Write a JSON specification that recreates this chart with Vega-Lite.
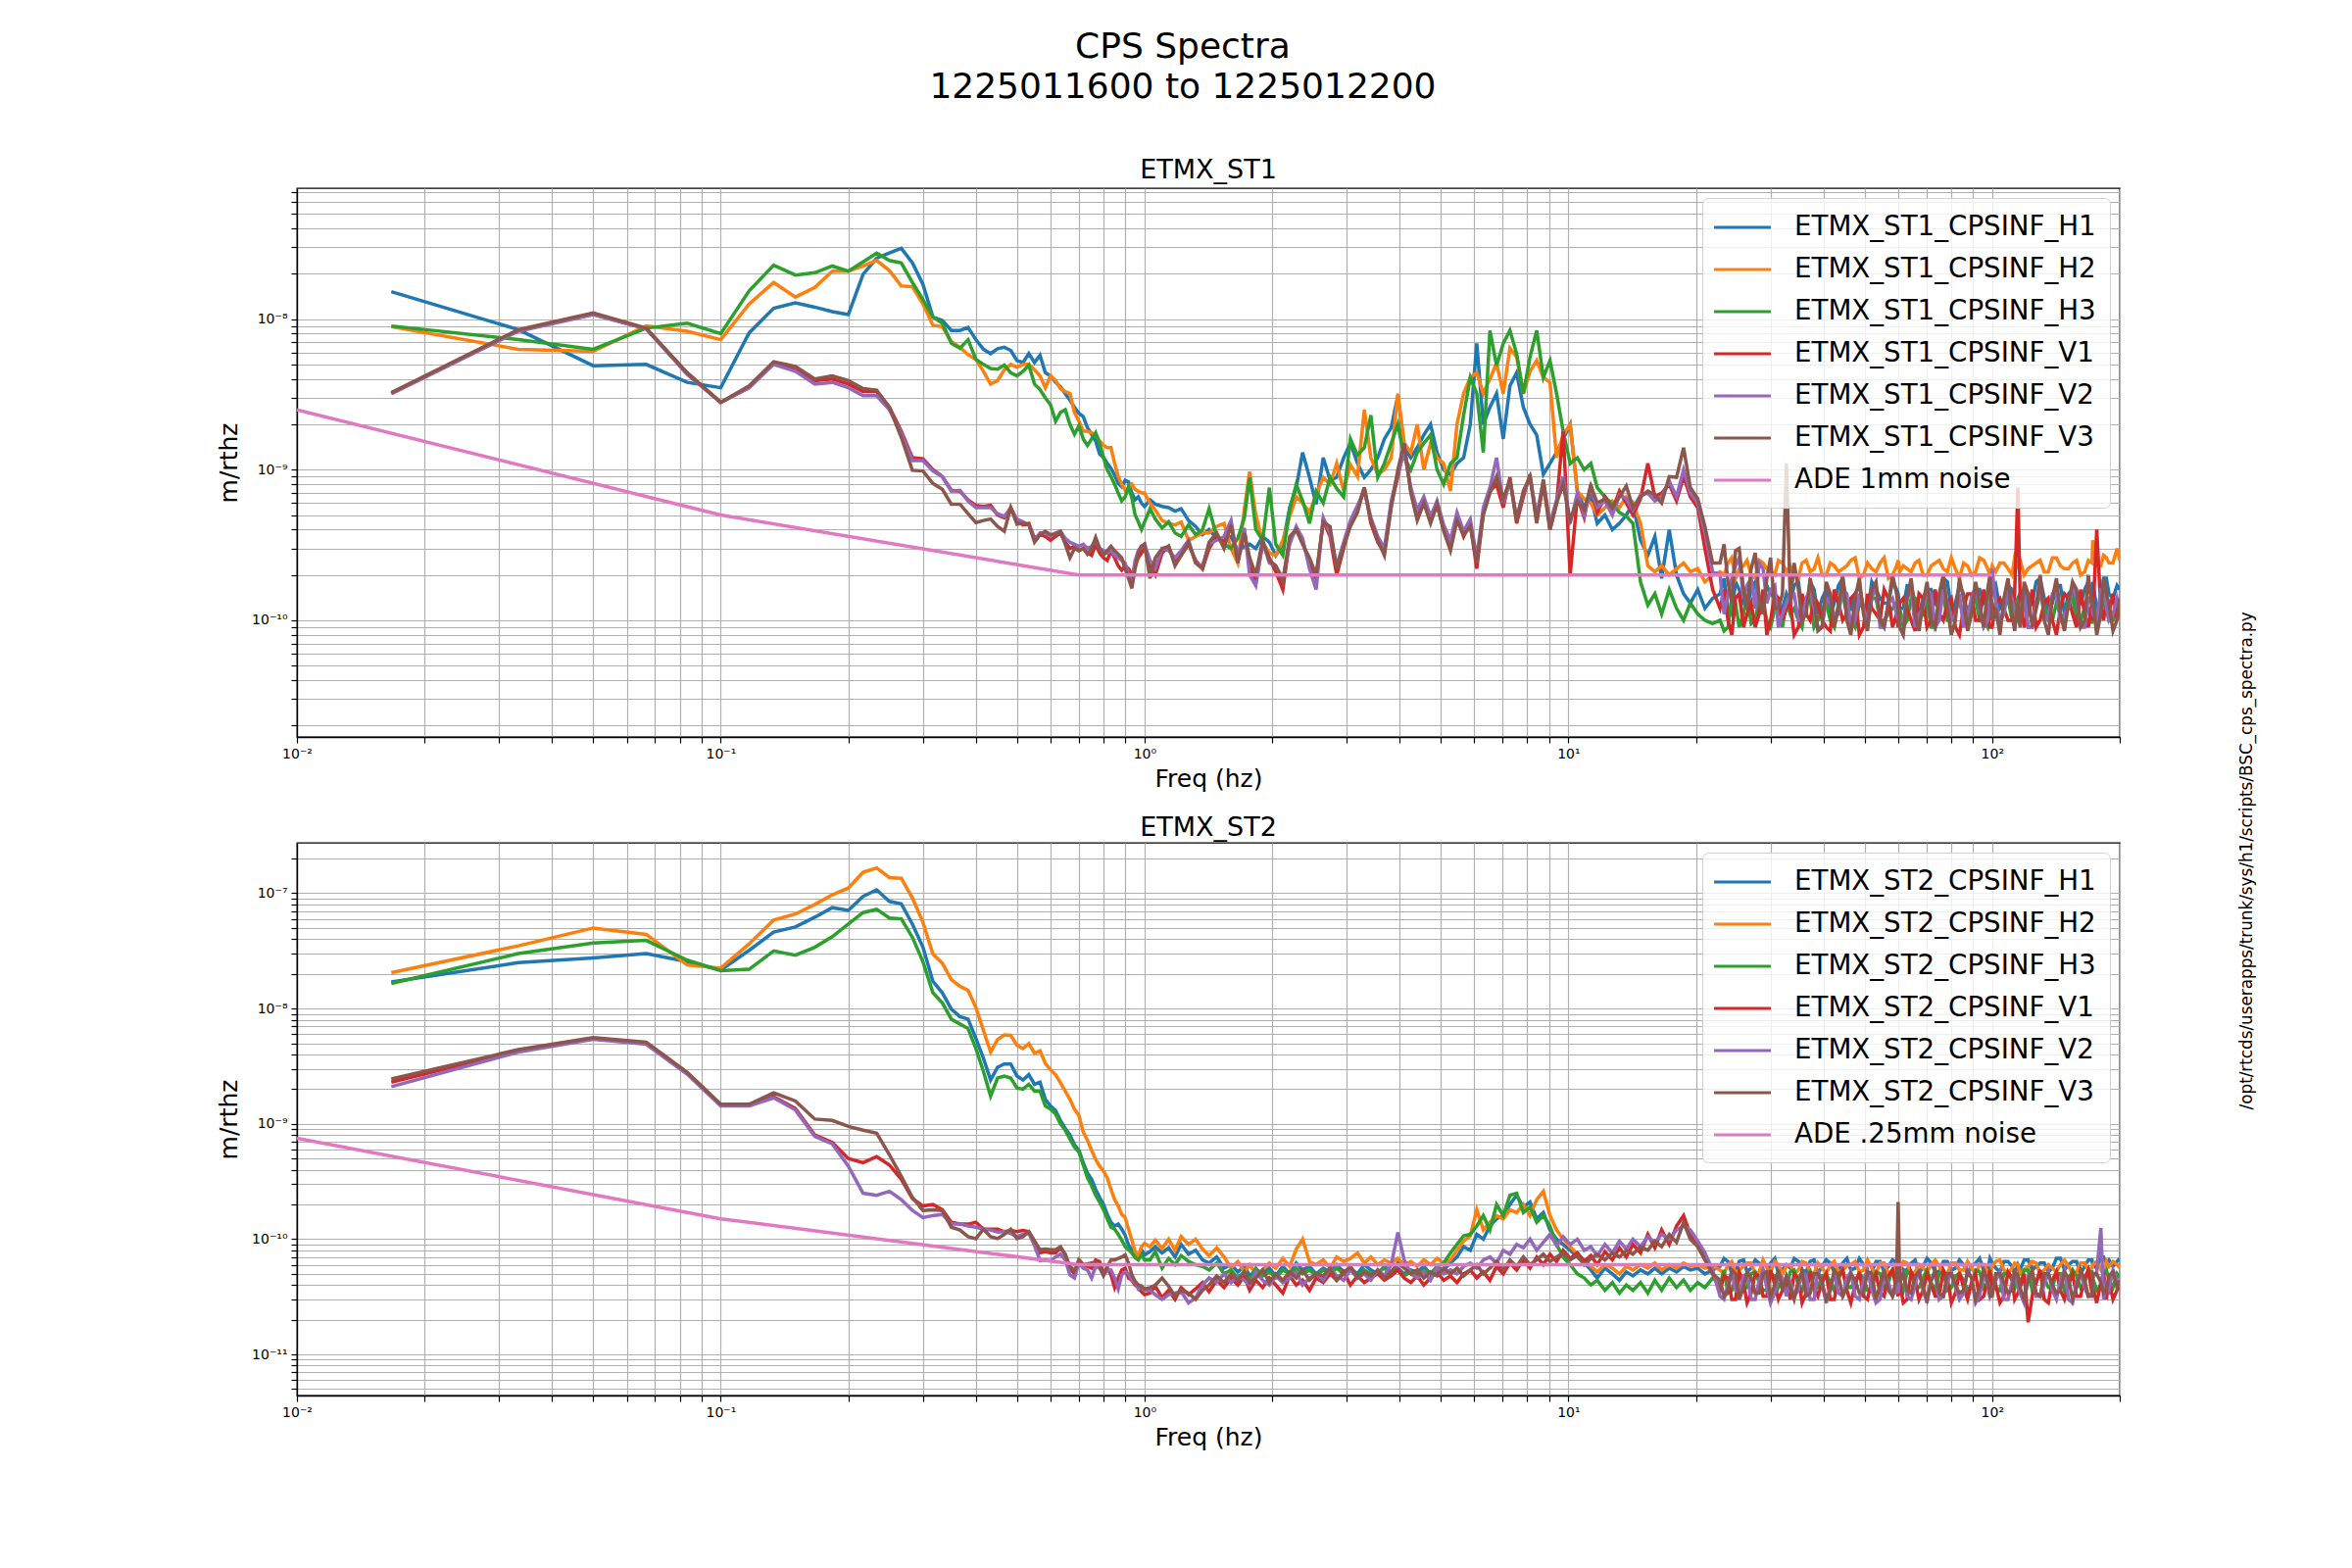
{
"$schema":"https://vega.github.io/schema/vega-lite/v6.json",
"background":"white",
"padding":{"left":220,"top":30,"right":10,"bottom":10},
"title":{"text":["CPS Spectra","1225011600 to 1225012200"],"fontSize":36,"fontWeight":"normal","font":"DejaVu Sans","lineHeight":41,"anchor":"middle","offset":51,"dx":-55,"color":"black"},
"config":{
"font":"DejaVu Sans",
"view":{"stroke":"black","strokeWidth":1.3},
"axis":{"gridColor":"#b0b0b0","gridWidth":1.2,"domainColor":"black","domainWidth":1.3,"tickColor":"black","tickWidth":1.2,"tickSize":6,"labelColor":"black","labelFontSize":14,"labelFont":"DejaVu Sans","labelPadding":4,"titleFontSize":25,"titleFont":"DejaVu Sans","titleFontWeight":"normal","titleColor":"black","labelOverlap":false,"labelFlush":false,"labelBound":false},
"title":{"fontSize":27,"fontWeight":"normal","font":"DejaVu Sans","color":"black","offset":1},
"legend":{"orient":"top-right","offset":10,"padding":14,"rowPadding":13,"labelFontSize":27.7,"labelFont":"DejaVu Sans","labelColor":"black","labelLimit":700,"labelOffset":37,"symbolOffset":11,"symbolType":"M-2.07,0H2.07","symbolSize":784,"symbolStrokeWidth":3.2,"fillColor":"rgba(255,255,255,0.8)","strokeColor":"#d0d0d0","cornerRadius":6}
},
"datasets":{
"ade1":[{"f":0.01,"s":"ADE","v":2.5e-9},{"f":0.1,"s":"ADE","v":5.0e-10},{"f":0.7,"s":"ADE","v":2.0e-10},{"f":100,"s":"ADE","v":2.0e-10}],
"ade2":[{"f":0.01,"s":"ADE","v":7.5e-10},{"f":0.1,"s":"ADE","v":1.5e-10},{"f":0.7,"s":"ADE","v":6.0e-11},{"f":100,"s":"ADE","v":6.0e-11}],
"note":[{"t":"/opt/rtcds/userapps/trunk/sys/h1/scripts/BSC_cps_spectra.py"}],
"st1":[
{"f":0.0167,"H1":1.52e-8,"H2":8.9e-9,"H3":9.0e-9,"V1":3.2e-9,"V2":3.2e-9,"V3":3.25e-9},
{"f":0.0333,"H1":8.5e-9,"H2":6.3e-9,"H3":7.3e-9,"V1":8.4e-9,"V2":8.3e-9,"V3":8.5e-9},
{"f":0.05,"H1":4.9e-9,"H2":6.1e-9,"H3":6.3e-9,"V1":1.08e-8,"V2":1.07e-8,"V3":1.1e-8},
{"f":0.0667,"H1":5.0e-9,"H2":9.0e-9,"H3":8.7e-9,"V1":8.6e-9,"V2":8.6e-9,"V3":8.7e-9},
{"f":0.0833,"H1":3.8e-9,"H2":8.3e-9,"H3":9.4e-9,"V1":4.4e-9,"V2":4.3e-9,"V3":4.4e-9},
{"f":0.1,"H1":3.5e-9,"H2":7.3e-9,"H3":8.0e-9,"V1":2.8e-9,"V2":2.8e-9,"V3":2.8e-9},
{"f":0.1167,"H1":8.1e-9,"H2":1.26e-8,"H3":1.54e-8,"V1":3.5e-9,"V2":3.5e-9,"V3":3.6e-9},
{"f":0.1333,"H1":1.18e-8,"H2":1.75e-8,"H3":2.28e-8,"V1":5.1e-9,"V2":5.0e-9,"V3":5.2e-9},
{"f":0.15,"H1":1.28e-8,"H2":1.4e-8,"H3":1.96e-8,"V1":4.6e-9,"V2":4.5e-9,"V3":4.85e-9},
{"f":0.1667,"H1":1.2e-8,"H2":1.62e-8,"H3":2.03e-8,"V1":3.9e-9,"V2":3.7e-9,"V3":4.0e-9},
{"f":0.1833,"H1":1.12e-8,"H2":2.08e-8,"H3":2.25e-8,"V1":4.0e-9,"V2":3.8e-9,"V3":4.2e-9},
{"f":0.2,"H1":1.07e-8,"H2":2.08e-8,"H3":2.08e-8,"V1":3.7e-9,"V2":3.5e-9,"V3":3.9e-9},
{"f":0.2167,"H1":1.98e-8,"H2":2.25e-8,"H3":2.4e-8,"V1":3.3e-9,"V2":3.1e-9,"V3":3.45e-9},
{"f":0.2333,"H1":2.54e-8,"H2":2.45e-8,"H3":2.74e-8,"V1":3.3e-9,"V2":3.1e-9,"V3":3.37e-9},
{"f":0.25,"H1":2.75e-8,"H2":2.1e-8,"H3":2.45e-8,"V1":2.6e-9,"V2":2.5e-9,"V3":2.6e-9},
{"f":0.2667,"H1":2.95e-8,"H2":1.66e-8,"H3":2.36e-8,"V1":1.8e-9,"V2":1.75e-9,"V3":1.64e-9},
{"f":0.2833,"H1":2.36e-8,"H2":1.64e-8,"H3":1.75e-8,"V1":1.2e-9,"V2":1.15e-9,"V3":9.9e-10},
{"f":0.3,"H1":1.7e-8,"H2":1.26e-8,"H3":1.35e-8,"V1":1.18e-9,"V2":1.15e-9,"V3":9.8e-10},
{"f":0.3167,"H1":1.03e-8,"H2":9.1e-9,"H3":1.03e-8,"V1":1.0e-9,"V2":9.8e-10,"V3":8.1e-10},
{"f":0.3333,"H1":9.8e-9,"H2":8.9e-9,"H3":9.4e-9,"V1":9.0e-10,"V2":9.0e-10,"V3":7.4e-10},
{"f":0.35,"H1":8.4e-9,"H2":7.1e-9,"H3":6.9e-9,"V1":7.3e-10,"V2":7.2e-10,"V3":5.9e-10},
{"f":0.3667,"H1":8.4e-9,"H2":6.5e-9,"H3":6.4e-9,"V1":7.2e-10,"V2":7.3e-10,"V3":5.9e-10},
{"f":0.3833,"H1":8.8e-9,"H2":5.8e-9,"H3":7.3e-9,"V1":6.3e-10,"V2":6.2e-10,"V3":5.1e-10},
{"f":0.4,"H1":7.3e-9,"H2":5.4e-9,"H3":5.4e-9,"V1":5.8e-10,"V2":5.6e-10,"V3":4.45e-10},
{"f":0.4167,"H1":6.3e-9,"H2":4.5e-9,"H3":5.0e-9,"V1":5.7e-10,"V2":5.6e-10,"V3":4.6e-10},
{"f":0.4333,"H1":5.9e-9,"H2":3.7e-9,"H3":4.7e-9,"V1":5.8e-10,"V2":5.6e-10,"V3":4.7e-10},
{"f":0.45,"H1":6.35e-9,"H2":3.9e-9,"H3":4.65e-9,"V1":5.0e-10,"V2":5.1e-10,"V3":4.2e-10},
{"f":0.4667,"H1":6.5e-9,"H2":4.6e-9,"H3":4.95e-9,"V1":4.8e-10,"V2":4.9e-10,"V3":3.9e-10},
{"f":0.4833,"H1":6.2e-9,"H2":5.0e-9,"H3":4.4e-9,"V1":5.6e-10,"V2":5.5e-10,"V3":5.6e-10},
{"f":0.5,"H1":5.3e-9,"H2":4.8e-9,"H3":4.2e-9,"V1":4.6e-10,"V2":4.7e-10,"V3":4.35e-10},
{"f":0.5167,"H1":5.15e-9,"H2":5.0e-9,"H3":4.5e-9,"V1":4.3e-10,"V2":4.5e-10,"V3":4.4e-10},
{"f":0.5333,"H1":5.9e-9,"H2":5.0e-9,"H3":4.95e-9,"V1":4.4e-10,"V2":4.3e-10,"V3":4.35e-10},
{"f":0.55,"H1":5.15e-9,"H2":4.6e-9,"H3":3.7e-9,"V1":3.5e-10,"V2":3.4e-10,"V3":3.3e-10},
{"f":0.5667,"H1":5.75e-9,"H2":4.2e-9,"H3":3.4e-9,"V1":3.7e-10,"V2":3.8e-10,"V3":3.7e-10},
{"f":0.5833,"H1":4.4e-9,"H2":3.5e-9,"H3":3.0e-9,"V1":3.6e-10,"V2":3.8e-10,"V3":3.9e-10},
{"f":0.6,"H1":4.2e-9,"H2":4.2e-9,"H3":2.7e-9,"V1":3.4e-10,"V2":3.6e-10,"V3":3.7e-10},
{"f":0.6167,"H1":3.8e-9,"H2":3.9e-9,"H3":2.1e-9,"V1":3.6e-10,"V2":3.8e-10,"V3":3.75e-10},
{"f":0.6333,"H1":3.55e-9,"H2":3.45e-9,"H3":2.4e-9,"V1":3.8e-10,"V2":3.9e-10,"V3":3.9e-10},
{"f":0.65,"H1":3.2e-9,"H2":3.3e-9,"H3":2.5e-9,"V1":3.3e-10,"V2":3.5e-10,"V3":3.2e-10},
{"f":0.6667,"H1":2.9e-9,"H2":3.2e-9,"H3":2.0e-9,"V1":3.0e-10,"V2":3.3e-10,"V3":2.6e-10},
{"f":0.6833,"H1":2.6e-9,"H2":2.4e-9,"H3":1.72e-9,"V1":3.1e-10,"V2":3.2e-10,"V3":3.0e-10},
{"f":0.7,"H1":2.37e-9,"H2":2.1e-9,"H3":1.95e-9,"V1":2.9e-10,"V2":3.1e-10,"V3":2.9e-10},
{"f":0.7167,"H1":2.25e-9,"H2":1.8e-9,"H3":1.6e-9,"V1":3.0e-10,"V2":3.2e-10,"V3":3.0e-10},
{"f":0.7333,"H1":1.9e-9,"H2":1.8e-9,"H3":1.45e-9,"V1":2.8e-10,"V2":3.0e-10,"V3":2.75e-10},
{"f":0.75,"H1":1.72e-9,"H2":1.76e-9,"H3":1.6e-9,"V1":2.7e-10,"V2":3.1e-10,"V3":3.0e-10},
{"f":0.7667,"H1":1.55e-9,"H2":1.7e-9,"H3":1.76e-9,"V1":3.2e-10,"V2":3.4e-10,"V3":3.55e-10},
{"f":0.7833,"H1":1.27e-9,"H2":1.55e-9,"H3":1.5e-9,"V1":2.8e-10,"V2":3.0e-10,"V3":3.0e-10},
{"f":0.8,"H1":1.21e-9,"H2":1.45e-9,"H3":1.2e-9,"V1":2.6e-10,"V2":2.9e-10,"V3":2.7e-10},
{"f":0.8167,"H1":1.1e-9,"H2":1.4e-9,"H3":1.0e-9,"V1":2.5e-10,"V2":2.8e-10,"V3":2.9e-10},
{"f":0.8333,"H1":1.02e-9,"H2":1.4e-9,"H3":9.0e-10,"V1":2.9e-10,"V2":2.9e-10,"V3":3.1e-10},
{"f":0.85,"H1":9.2e-10,"H2":1.1e-9,"H3":8.0e-10,"V1":2.6e-10,"V2":2.7e-10,"V3":2.9e-10},
{"f":0.8667,"H1":8.1e-10,"H2":9.0e-10,"H3":7.0e-10,"V1":2.3e-10,"V2":2.6e-10,"V3":2.75e-10},
{"f":0.8833,"H1":7.7e-10,"H2":8.0e-10,"H3":6.2e-10,"V1":2.15e-10,"V2":2.5e-10,"V3":2.6e-10},
{"f":0.9,"H1":8.5e-10,"H2":7.3e-10,"H3":6.6e-10,"V1":2.3e-10,"V2":2.4e-10,"V3":2.2e-10},
{"f":0.9167,"H1":8.3e-10,"H2":7.6e-10,"H3":7.7e-10,"V1":2.2e-10,"V2":2.0e-10,"V3":1.9e-10},
{"f":0.9333,"H1":7.0e-10,"H2":8.0e-10,"H3":6.5e-10,"V1":2.0e-10,"V2":1.8e-10,"V3":1.63e-10},
{"f":0.95,"H1":6.3e-10,"H2":7.4e-10,"H3":5.0e-10,"V1":2.3e-10,"V2":2.5e-10,"V3":2.2e-10},
{"f":0.9667,"H1":6.6e-10,"H2":7.2e-10,"H3":4.5e-10,"V1":2.6e-10,"V2":2.9e-10,"V3":2.8e-10},
{"f":0.9833,"H1":6.0e-10,"H2":7.0e-10,"H3":4.0e-10,"V1":2.8e-10,"V2":3.1e-10,"V3":3.1e-10},
{"f":1.0,"H1":5.7e-10,"H2":7.0e-10,"H3":4.5e-10,"V1":3.0e-10,"V2":3.2e-10,"V3":3.2e-10},
{"f":1.03,"H1":6.3e-10,"H2":6.0e-10,"H3":5.5e-10,"V1":2.3e-10,"V2":2.5e-10,"V3":1.9e-10},
{"f":1.06,"H1":5.9e-10,"H2":5.4e-10,"H3":4.7e-10,"V1":2.0e-10,"V2":2.2e-10,"V3":2.6e-10},
{"f":1.1,"H1":5.7e-10,"H2":4.6e-10,"H3":4.1e-10,"V1":2.8e-10,"V2":3.0e-10,"V3":3.0e-10},
{"f":1.14,"H1":5.6e-10,"H2":4.4e-10,"H3":4.5e-10,"V1":3.1e-10,"V2":2.9e-10,"V3":3.1e-10},
{"f":1.18,"H1":5.3e-10,"H2":4.3e-10,"H3":3.8e-10,"V1":2.4e-10,"V2":2.6e-10,"V3":2.3e-10},
{"f":1.22,"H1":5.5e-10,"H2":4.5e-10,"H3":3.6e-10,"V1":2.7e-10,"V2":2.9e-10,"V3":2.7e-10},
{"f":1.27,"H1":4.6e-10,"H2":3.4e-10,"H3":4.3e-10,"V1":3.2e-10,"V2":3.4e-10,"V3":3.3e-10},
{"f":1.32,"H1":4.2e-10,"H2":3.6e-10,"H3":3.7e-10,"V1":2.5e-10,"V2":2.4e-10,"V3":2.4e-10},
{"f":1.37,"H1":3.7e-10,"H2":3.8e-10,"H3":4.0e-10,"V1":2.2e-10,"V2":2.3e-10,"V3":2.2e-10},
{"f":1.42,"H1":4.0e-10,"H2":3.8e-10,"H3":5.5e-10,"V1":3.0e-10,"V2":3.2e-10,"V3":3.3e-10},
{"f":1.48,"H1":3.5e-10,"H2":4.2e-10,"H3":3.6e-10,"V1":3.6e-10,"V2":3.4e-10,"V3":3.8e-10},
{"f":1.54,"H1":3.3e-10,"H2":4.4e-10,"H3":3.2e-10,"V1":3.3e-10,"V2":3.6e-10,"V3":3.0e-10},
{"f":1.6,"H1":3.6e-10,"H2":3.0e-10,"H3":3.0e-10,"V1":4.2e-10,"V2":4.6e-10,"V3":4.3e-10},
{"f":1.66,"H1":2.9e-10,"H2":2.4e-10,"H3":3.5e-10,"V1":2.6e-10,"V2":2.5e-10,"V3":2.4e-10},
{"f":1.72,"H1":3.1e-10,"H2":5.5e-10,"H3":4.8e-10,"V1":3.9e-10,"V2":4.1e-10,"V3":3.8e-10},
{"f":1.77,"H1":3.2e-10,"H2":9.7e-10,"H3":8.9e-10,"V1":2.3e-10,"V2":2.0e-10,"V3":2.6e-10},
{"f":1.83,"H1":3.0e-10,"H2":5.0e-10,"H3":4.0e-10,"V1":1.8e-10,"V2":1.7e-10,"V3":2.0e-10},
{"f":1.9,"H1":3.6e-10,"H2":3.3e-10,"H3":3.4e-10,"V1":3.2e-10,"V2":3.3e-10,"V3":3.4e-10},
{"f":1.97,"H1":3.3e-10,"H2":2.8e-10,"H3":7.6e-10,"V1":2.6e-10,"V2":2.4e-10,"V3":2.5e-10},
{"f":2.04,"H1":2.7e-10,"H2":2.7e-10,"H3":3.2e-10,"V1":2.1e-10,"V2":2.3e-10,"V3":2.3e-10},
{"f":2.12,"H1":3.2e-10,"H2":3.4e-10,"H3":2.7e-10,"V1":1.6e-10,"V2":1.9e-10,"V3":1.8e-10},
{"f":2.2,"H1":5.6e-10,"H2":4.9e-10,"H3":5.4e-10,"V1":3.4e-10,"V2":3.2e-10,"V3":3.6e-10},
{"f":2.28,"H1":7.6e-10,"H2":6.6e-10,"H3":8.0e-10,"V1":4.0e-10,"V2":4.2e-10,"V3":4.0e-10},
{"f":2.36,"H1":1.3e-9,"H2":6.0e-10,"H3":6.2e-10,"V1":3.3e-10,"V2":3.5e-10,"V3":3.2e-10},
{"f":2.45,"H1":8.9e-10,"H2":5.2e-10,"H3":4.4e-10,"V1":2.4e-10,"V2":2.2e-10,"V3":2.6e-10},
{"f":2.54,"H1":5.9e-10,"H2":6.8e-10,"H3":7.2e-10,"V1":1.9e-10,"V2":1.6e-10,"V3":2.0e-10},
{"f":2.64,"H1":1.2e-9,"H2":8.9e-10,"H3":6.0e-10,"V1":4.6e-10,"V2":4.8e-10,"V3":4.5e-10},
{"f":2.74,"H1":8.5e-10,"H2":8.0e-10,"H3":8.9e-10,"V1":3.6e-10,"V2":3.8e-10,"V3":4.2e-10},
{"f":2.84,"H1":8.9e-10,"H2":1.1e-9,"H3":7.5e-10,"V1":2.0e-10,"V2":2.3e-10,"V3":2.2e-10},
{"f":2.95,"H1":1.2e-9,"H2":7.2e-10,"H3":6.6e-10,"V1":3.0e-10,"V2":3.3e-10,"V3":3.1e-10},
{"f":3.06,"H1":1.5e-9,"H2":1.08e-9,"H3":1.6e-9,"V1":4.4e-10,"V2":4.6e-10,"V3":4.2e-10},
{"f":3.18,"H1":1.1e-9,"H2":9.0e-10,"H3":1.25e-9,"V1":5.5e-10,"V2":5.8e-10,"V3":5.2e-10},
{"f":3.3,"H1":8.9e-10,"H2":2.5e-9,"H3":1.4e-9,"V1":7.6e-10,"V2":7.2e-10,"V3":7.6e-10},
{"f":3.42,"H1":1.0e-9,"H2":1.2e-9,"H3":2.3e-9,"V1":4.4e-10,"V2":4.8e-10,"V3":4.6e-10},
{"f":3.55,"H1":1.2e-9,"H2":9.3e-10,"H3":8.9e-10,"V1":3.3e-10,"V2":3.6e-10,"V3":3.4e-10},
{"f":3.68,"H1":1.6e-9,"H2":1.0e-9,"H3":1.1e-9,"V1":2.8e-10,"V2":3.0e-10,"V3":2.7e-10},
{"f":3.82,"H1":1.9e-9,"H2":1.2e-9,"H3":1.5e-9,"V1":5.9e-10,"V2":6.2e-10,"V3":5.6e-10},
{"f":3.96,"H1":3.1e-9,"H2":3.2e-9,"H3":2.0e-9,"V1":9.0e-10,"V2":9.5e-10,"V3":1.0e-9},
{"f":4.1,"H1":1.4e-9,"H2":1.5e-9,"H3":1.2e-9,"V1":1.4e-9,"V2":1.3e-9,"V3":1.5e-9},
{"f":4.25,"H1":1.2e-9,"H2":1.3e-9,"H3":1.0e-9,"V1":7.2e-10,"V2":7.6e-10,"V3":7.0e-10},
{"f":4.4,"H1":1.4e-9,"H2":2.0e-9,"H3":1.3e-9,"V1":5.0e-10,"V2":5.4e-10,"V3":4.6e-10},
{"f":4.56,"H1":1.7e-9,"H2":1.0e-9,"H3":1.5e-9,"V1":6.2e-10,"V2":6.6e-10,"V3":6.0e-10},
{"f":4.73,"H1":2.0e-9,"H2":1.5e-9,"H3":1.7e-9,"V1":4.6e-10,"V2":4.9e-10,"V3":4.4e-10},
{"f":4.9,"H1":1.3e-9,"H2":1.2e-9,"H3":1.0e-9,"V1":5.8e-10,"V2":6.2e-10,"V3":5.9e-10},
{"f":5.08,"H1":1.0e-9,"H2":1.1e-9,"H3":8.0e-10,"V1":4.0e-10,"V2":4.3e-10,"V3":3.9e-10},
{"f":5.27,"H1":9.3e-10,"H2":7.2e-10,"H3":1.1e-9,"V1":3.2e-10,"V2":3.4e-10,"V3":2.9e-10},
{"f":5.46,"H1":1.1e-9,"H2":2.0e-9,"H3":1.2e-9,"V1":4.8e-10,"V2":5.2e-10,"V3":4.6e-10},
{"f":5.66,"H1":1.2e-9,"H2":3.2e-9,"H3":2.3e-9,"V1":3.6e-10,"V2":3.9e-10,"V3":3.7e-10},
{"f":5.87,"H1":2.0e-9,"H2":4.1e-9,"H3":4.1e-9,"V1":4.4e-10,"V2":4.7e-10,"V3":4.2e-10},
{"f":6.08,"H1":6.9e-9,"H2":4.4e-9,"H3":3.2e-9,"V1":2.2e-10,"V2":2.6e-10,"V3":2.4e-10},
{"f":6.3,"H1":2.0e-9,"H2":3.2e-9,"H3":1.3e-9,"V1":5.2e-10,"V2":5.6e-10,"V3":5.0e-10},
{"f":6.53,"H1":2.6e-9,"H2":4.0e-9,"H3":8.4e-9,"V1":7.2e-10,"V2":7.6e-10,"V3":7.0e-10},
{"f":6.77,"H1":3.2e-9,"H2":5.1e-9,"H3":4.9e-9,"V1":8.0e-10,"V2":1.2e-9,"V3":9.0e-10},
{"f":7.02,"H1":1.6e-9,"H2":3.2e-9,"H3":6.9e-9,"V1":5.6e-10,"V2":6.0e-10,"V3":6.4e-10},
{"f":7.28,"H1":3.6e-9,"H2":6.4e-9,"H3":8.4e-9,"V1":8.9e-10,"V2":8.4e-10,"V3":8.6e-10},
{"f":7.55,"H1":4.4e-9,"H2":5.6e-9,"H3":5.9e-9,"V1":4.4e-10,"V2":4.8e-10,"V3":4.6e-10},
{"f":7.83,"H1":2.6e-9,"H2":3.2e-9,"H3":3.2e-9,"V1":6.6e-10,"V2":7.0e-10,"V3":7.2e-10},
{"f":8.12,"H1":2.0e-9,"H2":4.5e-9,"H3":5.6e-9,"V1":9.3e-10,"V2":8.8e-10,"V3":9.0e-10},
{"f":8.42,"H1":1.7e-9,"H2":5.3e-9,"H3":8.4e-9,"V1":4.6e-10,"V2":5.0e-10,"V3":4.4e-10},
{"f":8.73,"H1":9.3e-10,"H2":4.1e-9,"H3":4.1e-9,"V1":8.0e-10,"V2":8.4e-10,"V3":8.6e-10},
{"f":9.05,"H1":1.1e-9,"H2":3.8e-9,"H3":5.3e-9,"V1":4.0e-10,"V2":4.4e-10,"V3":4.0e-10},
{"f":9.38,"H1":1.3e-9,"H2":1.2e-9,"H3":3.2e-9,"V1":6.0e-10,"V2":6.3e-10,"V3":6.0e-10},
{"f":9.72,"H1":1.6e-9,"H2":1.7e-9,"H3":1.8e-9,"V1":1.8e-9,"V2":9.0e-10,"V3":8.0e-10},
{"f":10.1,"H1":2.0e-9,"H2":2.0e-9,"H3":1.1e-9,"V1":2.0e-10,"V2":4.4e-10,"V3":4.6e-10},
{"f":10.5,"H1":7.2e-10,"H2":7.2e-10,"H3":1.2e-9,"V1":6.6e-10,"V2":7.0e-10,"V3":6.2e-10},
{"f":10.9,"H1":5.6e-10,"H2":6.4e-10,"H3":1.0e-9,"V1":4.8e-10,"V2":5.0e-10,"V3":5.4e-10},
{"f":11.3,"H1":6.6e-10,"H2":6.0e-10,"H3":1.1e-9,"V1":8.0e-10,"V2":7.6e-10,"V3":7.8e-10},
{"f":11.7,"H1":4.4e-10,"H2":5.0e-10,"H3":7.6e-10,"V1":5.2e-10,"V2":5.6e-10,"V3":6.0e-10},
{"f":12.2,"H1":5.0e-10,"H2":5.6e-10,"H3":6.6e-10,"V1":6.6e-10,"V2":6.2e-10,"V3":6.4e-10},
{"f":12.7,"H1":4.0e-10,"H2":6.2e-10,"H3":5.9e-10,"V1":5.4e-10,"V2":5.0e-10,"V3":5.6e-10},
{"f":13.2,"H1":4.4e-10,"H2":5.6e-10,"H3":5.2e-10,"V1":7.2e-10,"V2":6.8e-10,"V3":6.6e-10},
{"f":13.7,"H1":5.0e-10,"H2":6.6e-10,"H3":4.9e-10,"V1":6.0e-10,"V2":6.4e-10,"V3":7.8e-10},
{"f":14.2,"H1":5.9e-10,"H2":6.0e-10,"H3":4.4e-10,"V1":5.0e-10,"V2":5.4e-10,"V3":5.6e-10},
{"f":14.8,"H1":3.4e-10,"H2":4.4e-10,"H3":1.8e-10,"V1":6.4e-10,"V2":6.8e-10,"V3":6.6e-10},
{"f":15.4,"H1":2.7e-10,"H2":2.3e-10,"H3":1.26e-10,"V1":1.1e-9,"V2":7.0e-10,"V3":7.2e-10},
{"f":16.0,"H1":3.6e-10,"H2":2.1e-10,"H3":1.5e-10,"V1":6.6e-10,"V2":6.2e-10,"V3":6.8e-10},
{"f":16.6,"H1":1.9e-10,"H2":2.3e-10,"H3":1.1e-10,"V1":7.0e-10,"V2":6.6e-10,"V3":6.0e-10},
{"f":17.3,"H1":4.0e-10,"H2":2.0e-10,"H3":1.6e-10,"V1":8.0e-10,"V2":8.4e-10,"V3":9.0e-10},
{"f":18.0,"H1":2.0e-10,"H2":2.2e-10,"H3":1.2e-10,"V1":6.2e-10,"V2":6.6e-10,"V3":8.9e-10},
{"f":18.7,"H1":1.5e-10,"H2":2.4e-10,"H3":1.0e-10,"V1":9.0e-10,"V2":1.0e-9,"V3":1.4e-9},
{"f":19.4,"H1":1.3e-10,"H2":2.1e-10,"H3":1.3e-10,"V1":6.6e-10,"V2":7.0e-10,"V3":7.6e-10},
{"f":20.2,"H1":1.6e-10,"H2":2.2e-10,"H3":1.1e-10,"V1":5.6e-10,"V2":6.0e-10,"V3":6.4e-10},
{"f":21.0,"H1":1.2e-10,"H2":1.8e-10,"H3":1.0e-10,"V1":3.0e-10,"V2":3.8e-10,"V3":4.2e-10},
{"f":21.9,"H1":1.4e-10,"H2":2.0e-10,"H3":9.5e-11,"V1":1.6e-10,"V2":2.1e-10,"V3":2.4e-10},
{"f":22.8,"H1":1.5e-10,"H2":2.1e-10,"H3":1.0e-10,"V1":1.2e-10,"V2":2.0e-10,"V3":2.4e-10},
{"f":23.8,"H1":1.2e-10,"H2":2.4e-10,"H3":9.0e-11,"V1":1.0e-10,"V2":1.5e-10,"V3":1.8e-10},
{"f":24.8,"H1":1.8e-10,"H2":1.9e-10,"H3":1.3e-10,"V1":1.4e-10,"V2":2.3e-10,"V3":2.9e-10},
{"f":25.9,"H1":1.3e-10,"H2":2.3e-10,"H3":1.1e-10,"V1":9.0e-11,"V2":1.4e-10,"V3":1.6e-10},
{"f":27.0,"H1":1.6e-10,"H2":2.0e-10,"H3":9.5e-11,"V1":1.3e-10,"V2":1.9e-10,"V3":2.2e-10},
{"f":28.2,"H1":1.1e-10,"H2":2.5e-10,"H3":1.4e-10,"V1":1.1e-10,"V2":2.4e-10,"V3":1.4e-10},
{"f":29.4,"H1":1.7e-10,"H2":2.2e-10,"H3":1.0e-10,"V1":8.0e-11,"V2":1.3e-10,"V3":1.9e-10},
{"f":30.7,"H1":1.4e-10,"H2":2.0e-10,"H3":1.2e-10,"V1":1.5e-10,"V2":1.7e-10,"V3":1.2e-10},
{"f":32.0,"H1":1.2e-10,"H2":2.4e-10,"H3":9.0e-11,"V1":1.0e-10,"V2":1.1e-10,"V3":1.5e-10},
{"f":32.7,"H1":1.5e-10,"H2":2.1e-10,"H3":1.3e-10,"V1":1.2e-10,"V2":1.3e-10,"V3":1.1e-9},
{"f":33.4,"H1":1.3e-10,"H2":2.3e-10,"H3":1.1e-10,"V1":1.3e-10,"V2":1.5e-10,"V3":1.3e-10},
{"f":34.9,"H1":1.8e-10,"H2":1.9e-10,"H3":1.0e-10,"V1":9.0e-11,"V2":1.0e-10,"V3":1.6e-10},
{"f":36.4,"H1":1.2e-10,"H2":2.5e-10,"H3":1.4e-10,"V1":1.1e-10,"V2":1.4e-10,"V3":1.1e-10},
{"f":38.0,"H1":1.6e-10,"H2":2.2e-10,"H3":9.0e-11,"V1":1.4e-10,"V2":1.2e-10,"V3":1.4e-10},
{"f":39.7,"H1":1.4e-10,"H2":2.0e-10,"H3":1.2e-10,"V1":1.0e-10,"V2":9.0e-11,"V3":9.0e-11},
{"f":41.5,"H1":1.1e-10,"H2":2.4e-10,"H3":1.0e-10,"V1":8.5e-11,"V2":1.3e-10,"V3":1.5e-10},
{"f":43.4,"H1":1.7e-10,"H2":2.1e-10,"H3":1.3e-10,"V1":1.3e-10,"V2":1.1e-10,"V3":1.2e-10},
{"f":45.4,"H1":1.3e-10,"H2":2.3e-10,"H3":1.1e-10,"V1":1.1e-10,"V2":1.5e-10,"V3":1.0e-10},
{"f":47.5,"H1":1.5e-10,"H2":2.6e-10,"H3":9.0e-11,"V1":1.5e-10,"V2":1.0e-10,"V3":1.4e-10},
{"f":49.7,"H1":1.2e-10,"H2":2.0e-10,"H3":1.2e-10,"V1":9.0e-11,"V2":1.2e-10,"V3":1.1e-10},
{"f":52.0,"H1":1.8e-10,"H2":2.2e-10,"H3":1.4e-10,"V1":1.2e-10,"V2":1.4e-10,"V3":1.6e-10},
{"f":54.4,"H1":1.4e-10,"H2":2.4e-10,"H3":1.0e-10,"V1":1.0e-10,"V2":9.0e-11,"V3":1.0e-10},
{"f":56.9,"H1":1.3e-10,"H2":1.9e-10,"H3":1.1e-10,"V1":1.4e-10,"V2":1.3e-10,"V3":1.3e-10},
{"f":59.5,"H1":1.6e-10,"H2":2.3e-10,"H3":1.3e-10,"V1":1.1e-10,"V2":1.1e-10,"V3":1.5e-10},
{"f":60.0,"H1":1.5e-10,"H2":2.5e-10,"H3":9.5e-11,"V1":9.0e-11,"V2":1.2e-10,"V3":1.2e-10},
{"f":60.5,"H1":1.2e-10,"H2":2.1e-10,"H3":1.2e-10,"V1":1.3e-10,"V2":1.0e-10,"V3":9.0e-11},
{"f":63.0,"H1":1.7e-10,"H2":2.2e-10,"H3":1.0e-10,"V1":1.2e-10,"V2":1.4e-10,"V3":1.4e-10},
{"f":65.8,"H1":1.3e-10,"H2":2.4e-10,"H3":1.4e-10,"V1":8.5e-11,"V2":9.0e-11,"V3":1.1e-10},
{"f":68.7,"H1":1.4e-10,"H2":2.0e-10,"H3":1.1e-10,"V1":1.4e-10,"V2":1.2e-10,"V3":1.3e-10},
{"f":71.8,"H1":1.6e-10,"H2":2.3e-10,"H3":9.0e-11,"V1":1.0e-10,"V2":1.5e-10,"V3":1.0e-10},
{"f":75.0,"H1":1.2e-10,"H2":2.5e-10,"H3":1.3e-10,"V1":1.1e-10,"V2":1.0e-10,"V3":1.5e-10},
{"f":78.4,"H1":1.8e-10,"H2":2.1e-10,"H3":1.0e-10,"V1":1.3e-10,"V2":1.3e-10,"V3":1.2e-10},
{"f":81.9,"H1":1.3e-10,"H2":2.2e-10,"H3":1.2e-10,"V1":9.0e-11,"V2":1.1e-10,"V3":1.0e-10},
{"f":85.6,"H1":1.5e-10,"H2":2.4e-10,"H3":1.1e-10,"V1":1.2e-10,"V2":9.0e-11,"V3":1.4e-10},
{"f":89.4,"H1":1.2e-10,"H2":2.0e-10,"H3":1.4e-10,"V1":1.5e-10,"V2":1.4e-10,"V3":1.1e-10},
{"f":93.4,"H1":1.6e-10,"H2":2.6e-10,"H3":1.0e-10,"V1":1.0e-10,"V2":1.2e-10,"V3":1.3e-10},
{"f":97.6,"H1":1.4e-10,"H2":2.2e-10,"H3":9.0e-11,"V1":1.1e-10,"V2":1.0e-10,"V3":1.6e-10},
{"f":100,"H1":1.5e-10,"H2":2.3e-10,"H3":1.3e-10,"V1":9.0e-11,"V2":2.2e-10,"V3":1.0e-10},
{"f":102,"H1":1.7e-10,"H2":2.1e-10,"H3":1.1e-10,"V1":1.3e-10,"V2":1.3e-10,"V3":1.2e-10},
{"f":106.6,"H1":1.3e-10,"H2":2.4e-10,"H3":1.2e-10,"V1":1.2e-10,"V2":1.1e-10,"V3":1.4e-10},
{"f":111.4,"H1":1.6e-10,"H2":2.0e-10,"H3":1.0e-10,"V1":1.0e-10,"V2":1.4e-10,"V3":1.1e-10},
{"f":115,"H1":1.4e-10,"H2":2.3e-10,"H3":1.4e-10,"V1":7.6e-10,"V2":1.0e-10,"V3":1.3e-10},
{"f":116.4,"H1":1.5e-10,"H2":2.5e-10,"H3":1.1e-10,"V1":1.4e-10,"V2":1.2e-10,"V3":9.0e-11},
{"f":121.6,"H1":1.2e-10,"H2":2.2e-10,"H3":9.0e-11,"V1":1.1e-10,"V2":9.0e-11,"V3":1.5e-10},
{"f":127,"H1":1.8e-10,"H2":2.4e-10,"H3":1.2e-10,"V1":9.0e-11,"V2":1.3e-10,"V3":1.2e-10},
{"f":132.7,"H1":1.4e-10,"H2":2.1e-10,"H3":1.3e-10,"V1":1.3e-10,"V2":1.1e-10,"V3":1.0e-10},
{"f":138.7,"H1":1.3e-10,"H2":2.6e-10,"H3":1.0e-10,"V1":1.0e-10,"V2":1.5e-10,"V3":1.4e-10},
{"f":144.9,"H1":1.7e-10,"H2":2.3e-10,"H3":1.1e-10,"V1":1.2e-10,"V2":1.0e-10,"V3":1.1e-10},
{"f":151.4,"H1":1.5e-10,"H2":2.2e-10,"H3":1.4e-10,"V1":1.4e-10,"V2":1.2e-10,"V3":1.3e-10},
{"f":158.2,"H1":1.2e-10,"H2":2.5e-10,"H3":1.0e-10,"V1":9.0e-11,"V2":1.4e-10,"V3":1.6e-10},
{"f":165.3,"H1":1.6e-10,"H2":2.1e-10,"H3":1.2e-10,"V1":1.1e-10,"V2":9.0e-11,"V3":1.0e-10},
{"f":172,"H1":1.4e-10,"H2":2.4e-10,"H3":9.5e-11,"V1":1.3e-10,"V2":1.3e-10,"V3":1.2e-10},
{"f":172.7,"H1":1.8e-10,"H2":3.4e-10,"H3":1.3e-10,"V1":1.0e-10,"V2":1.1e-10,"V3":1.4e-10},
{"f":180.5,"H1":1.3e-10,"H2":2.3e-10,"H3":1.1e-10,"V1":1.2e-10,"V2":1.6e-10,"V3":1.1e-10},
{"f":186,"H1":1.9e-10,"H2":2.6e-10,"H3":1.2e-10,"V1":1.4e-10,"V2":1.2e-10,"V3":1.5e-10},
{"f":188.6,"H1":1.5e-10,"H2":2.4e-10,"H3":1.0e-10,"V1":1.1e-10,"V2":1.0e-10,"V3":1.3e-10},
{"f":197.1,"H1":1.7e-10,"H2":3.0e-10,"H3":1.4e-10,"V1":1.0e-10,"V2":1.4e-10,"V3":1.0e-10},
{"f":200,"H1":1.6e-10,"H2":2.5e-10,"H3":1.2e-10,"V1":1.3e-10,"V2":1.2e-10,"V3":1.4e-10},
{"f":23.3,"H1":1.9e-10,"H2":2.0e-10,"H3":8.5e-11,"V1":1.6e-10,"V2":1.1e-10,"V3":3.2e-10},
{"f":24.3,"H1":1.1e-10,"H2":2.6e-10,"H3":1.4e-10,"V1":8.0e-11,"V2":1.9e-10,"V3":1.3e-10},
{"f":25.3,"H1":1.6e-10,"H2":2.2e-10,"H3":9.0e-11,"V1":1.5e-10,"V2":2.6e-10,"V3":3.0e-10},
{"f":26.4,"H1":1.2e-10,"H2":2.5e-10,"H3":1.5e-10,"V1":1.1e-10,"V2":1.7e-10,"V3":1.2e-10},
{"f":27.6,"H1":1.8e-10,"H2":1.9e-10,"H3":1.0e-10,"V1":9.0e-11,"V2":1.2e-10,"V3":2.8e-10},
{"f":28.8,"H1":1.3e-10,"H2":2.4e-10,"H3":1.3e-10,"V1":1.6e-10,"V2":2.2e-10,"V3":1.1e-10},
{"f":30.0,"H1":1.5e-10,"H2":2.1e-10,"H3":9.0e-11,"V1":1.0e-10,"V2":1.6e-10,"V3":2.6e-10},
{"f":31.3,"H1":1.1e-10,"H2":2.5e-10,"H3":1.4e-10,"V1":1.4e-10,"V2":9.0e-11,"V3":1.2e-10},
{"f":34.1,"H1":1.7e-10,"H2":2.0e-10,"H3":1.2e-10,"V1":8.0e-11,"V2":1.5e-10,"V3":2.4e-10},
{"f":35.6,"H1":1.2e-10,"H2":2.4e-10,"H3":9.0e-11,"V1":1.5e-10,"V2":1.0e-10,"V3":1.0e-10},
{"f":37.2,"H1":1.8e-10,"H2":2.1e-10,"H3":1.4e-10,"V1":1.0e-10,"V2":1.6e-10,"V3":1.9e-10},
{"f":38.8,"H1":1.1e-10,"H2":2.6e-10,"H3":1.0e-10,"V1":1.3e-10,"V2":9.0e-11,"V3":8.5e-11},
{"f":40.6,"H1":1.6e-10,"H2":2.0e-10,"H3":1.3e-10,"V1":9.0e-11,"V2":1.4e-10,"V3":1.8e-10},
{"f":42.4,"H1":1.3e-10,"H2":2.3e-10,"H3":9.0e-11,"V1":1.6e-10,"V2":1.1e-10,"V3":9.0e-11},
{"f":44.4,"H1":1.9e-10,"H2":2.2e-10,"H3":1.5e-10,"V1":1.0e-10,"V2":1.6e-10,"V3":2.0e-10},
{"f":46.4,"H1":1.2e-10,"H2":2.5e-10,"H3":1.0e-10,"V1":1.4e-10,"V2":9.0e-11,"V3":8.0e-11},
{"f":48.6,"H1":1.7e-10,"H2":1.9e-10,"H3":1.3e-10,"V1":8.0e-11,"V2":1.5e-10,"V3":1.9e-10},
{"f":50.8,"H1":1.1e-10,"H2":2.4e-10,"H3":9.0e-11,"V1":1.5e-10,"V2":1.0e-10,"V3":8.5e-11},
{"f":53.2,"H1":1.6e-10,"H2":2.1e-10,"H3":1.4e-10,"V1":1.1e-10,"V2":1.7e-10,"V3":1.8e-10},
{"f":55.6,"H1":1.3e-10,"H2":2.6e-10,"H3":1.0e-10,"V1":1.6e-10,"V2":9.0e-11,"V3":9.0e-11},
{"f":58.2,"H1":1.8e-10,"H2":2.0e-10,"H3":1.2e-10,"V1":9.0e-11,"V2":1.4e-10,"V3":2.0e-10},
{"f":61.7,"H1":1.2e-10,"H2":2.3e-10,"H3":9.0e-11,"V1":1.4e-10,"V2":1.0e-10,"V3":8.0e-11},
{"f":64.4,"H1":1.7e-10,"H2":2.1e-10,"H3":1.4e-10,"V1":1.0e-10,"V2":1.6e-10,"V3":1.9e-10},
{"f":67.2,"H1":1.1e-10,"H2":2.5e-10,"H3":1.0e-10,"V1":1.5e-10,"V2":1.1e-10,"V3":8.5e-11},
{"f":70.2,"H1":1.6e-10,"H2":2.0e-10,"H3":1.3e-10,"V1":9.0e-11,"V2":1.5e-10,"V3":1.8e-10},
{"f":73.4,"H1":1.3e-10,"H2":2.4e-10,"H3":9.0e-11,"V1":1.6e-10,"V2":9.0e-11,"V3":9.0e-11},
{"f":76.7,"H1":1.9e-10,"H2":2.2e-10,"H3":1.5e-10,"V1":1.0e-10,"V2":1.6e-10,"V3":2.0e-10},
{"f":80.1,"H1":1.2e-10,"H2":2.6e-10,"H3":1.0e-10,"V1":1.4e-10,"V2":1.0e-10,"V3":8.0e-11},
{"f":83.7,"H1":1.7e-10,"H2":1.9e-10,"H3":1.3e-10,"V1":8.0e-11,"V2":1.5e-10,"V3":1.9e-10},
{"f":87.5,"H1":1.1e-10,"H2":2.3e-10,"H3":9.0e-11,"V1":1.5e-10,"V2":1.1e-10,"V3":8.5e-11},
{"f":91.4,"H1":1.6e-10,"H2":2.1e-10,"H3":1.4e-10,"V1":1.0e-10,"V2":1.7e-10,"V3":1.8e-10},
{"f":95.5,"H1":1.3e-10,"H2":2.5e-10,"H3":1.0e-10,"V1":1.6e-10,"V2":9.0e-11,"V3":9.0e-11},
{"f":98.8,"H1":1.8e-10,"H2":2.0e-10,"H3":1.2e-10,"V1":9.0e-11,"V2":1.4e-10,"V3":2.0e-10},
{"f":104.3,"H1":1.2e-10,"H2":2.4e-10,"H3":9.0e-11,"V1":1.4e-10,"V2":1.0e-10,"V3":8.0e-11},
{"f":109,"H1":1.7e-10,"H2":2.2e-10,"H3":1.4e-10,"V1":1.0e-10,"V2":1.6e-10,"V3":1.9e-10},
{"f":113,"H1":1.1e-10,"H2":2.6e-10,"H3":1.0e-10,"V1":1.5e-10,"V2":1.1e-10,"V3":8.5e-11},
{"f":119,"H1":1.6e-10,"H2":2.0e-10,"H3":1.3e-10,"V1":9.0e-11,"V2":1.5e-10,"V3":1.8e-10},
{"f":124.3,"H1":1.3e-10,"H2":2.3e-10,"H3":9.0e-11,"V1":1.6e-10,"V2":9.0e-11,"V3":9.0e-11},
{"f":129.8,"H1":1.9e-10,"H2":2.5e-10,"H3":1.5e-10,"V1":1.0e-10,"V2":1.6e-10,"V3":2.0e-10},
{"f":135.7,"H1":1.2e-10,"H2":2.1e-10,"H3":1.0e-10,"V1":1.4e-10,"V2":1.0e-10,"V3":8.0e-11},
{"f":141.8,"H1":1.7e-10,"H2":2.6e-10,"H3":1.3e-10,"V1":8.0e-11,"V2":1.5e-10,"V3":1.9e-10},
{"f":148.1,"H1":1.1e-10,"H2":2.2e-10,"H3":9.0e-11,"V1":1.5e-10,"V2":1.1e-10,"V3":8.5e-11},
{"f":154.8,"H1":1.6e-10,"H2":2.4e-10,"H3":1.4e-10,"V1":1.1e-10,"V2":1.7e-10,"V3":1.8e-10},
{"f":161.7,"H1":1.3e-10,"H2":2.0e-10,"H3":1.0e-10,"V1":1.6e-10,"V2":9.0e-11,"V3":9.0e-11},
{"f":168.6,"H1":1.8e-10,"H2":2.5e-10,"H3":1.2e-10,"V1":9.0e-11,"V2":1.4e-10,"V3":2.0e-10},
{"f":176.5,"H1":1.2e-10,"H2":2.3e-10,"H3":9.0e-11,"V1":4.0e-10,"V2":1.0e-10,"V3":8.0e-11},
{"f":183.2,"H1":1.9e-10,"H2":2.7e-10,"H3":1.4e-10,"V1":1.0e-10,"V2":1.6e-10,"V3":1.9e-10},
{"f":192.8,"H1":1.4e-10,"H2":2.4e-10,"H3":1.0e-10,"V1":1.5e-10,"V2":1.1e-10,"V3":8.5e-11}
],
"st2":[
{"f":0.0167,"H1":1.7e-8,"H2":2.05e-8,"H3":1.65e-8,"V1":2.3e-9,"V2":2.1e-9,"V3":2.45e-9},
{"f":0.0333,"H1":2.5e-8,"H2":3.5e-8,"H3":3.0e-8,"V1":4.3e-9,"V2":4.2e-9,"V3":4.4e-9},
{"f":0.05,"H1":2.75e-8,"H2":5.0e-8,"H3":3.7e-8,"V1":5.5e-9,"V2":5.4e-9,"V3":5.6e-9},
{"f":0.0667,"H1":3.0e-8,"H2":4.4e-8,"H3":3.9e-8,"V1":5.0e-9,"V2":4.9e-9,"V3":5.1e-9},
{"f":0.0833,"H1":2.55e-8,"H2":2.39e-8,"H3":2.63e-8,"V1":2.75e-9,"V2":2.7e-9,"V3":2.8e-9},
{"f":0.1,"H1":2.16e-8,"H2":2.24e-8,"H3":2.13e-8,"V1":1.46e-9,"V2":1.43e-9,"V3":1.48e-9},
{"f":0.1167,"H1":3.2e-8,"H2":3.65e-8,"H3":2.19e-8,"V1":1.45e-9,"V2":1.43e-9,"V3":1.48e-9},
{"f":0.1333,"H1":4.6e-8,"H2":5.85e-8,"H3":3.16e-8,"V1":1.72e-9,"V2":1.68e-9,"V3":1.86e-9},
{"f":0.15,"H1":5.1e-8,"H2":6.6e-8,"H3":2.9e-8,"V1":1.36e-9,"V2":1.32e-9,"V3":1.58e-9},
{"f":0.1667,"H1":6.2e-8,"H2":8.0e-8,"H3":3.4e-8,"V1":8.0e-10,"V2":7.8e-10,"V3":1.1e-9},
{"f":0.1833,"H1":7.5e-8,"H2":9.7e-8,"H3":4.2e-8,"V1":6.9e-10,"V2":6.7e-10,"V3":1.07e-9},
{"f":0.2,"H1":7.1e-8,"H2":1.11e-7,"H3":5.4e-8,"V1":5.0e-10,"V2":4.3e-10,"V3":9.5e-10},
{"f":0.2167,"H1":9.4e-8,"H2":1.52e-7,"H3":6.8e-8,"V1":4.6e-10,"V2":2.5e-10,"V3":8.8e-10},
{"f":0.2333,"H1":1.07e-7,"H2":1.66e-7,"H3":7.25e-8,"V1":5.2e-10,"V2":2.4e-10,"V3":8.3e-10},
{"f":0.25,"H1":8.5e-8,"H2":1.37e-7,"H3":6.1e-8,"V1":4.4e-10,"V2":2.6e-10,"V3":5.4e-10},
{"f":0.2667,"H1":8.1e-8,"H2":1.35e-7,"H3":6.0e-8,"V1":3.3e-10,"V2":2.2e-10,"V3":3.5e-10},
{"f":0.2833,"H1":5.4e-8,"H2":9.1e-8,"H3":4.15e-8,"V1":2.25e-10,"V2":1.77e-10,"V3":2.3e-10},
{"f":0.3,"H1":3.4e-8,"H2":5.6e-8,"H3":2.55e-8,"V1":1.94e-10,"V2":1.54e-10,"V3":1.77e-10},
{"f":0.3167,"H1":1.72e-8,"H2":2.97e-8,"H3":1.37e-8,"V1":2.0e-10,"V2":1.6e-10,"V3":1.8e-10},
{"f":0.3333,"H1":1.37e-8,"H2":2.47e-8,"H3":1.12e-8,"V1":1.8e-10,"V2":1.64e-10,"V3":1.77e-10},
{"f":0.35,"H1":9.9e-9,"H2":1.78e-8,"H3":8.1e-9,"V1":1.4e-10,"V2":1.35e-10,"V3":1.27e-10},
{"f":0.3667,"H1":8.5e-9,"H2":1.56e-8,"H3":7.35e-9,"V1":1.35e-10,"V2":1.35e-10,"V3":1.2e-10},
{"f":0.3833,"H1":8.1e-9,"H2":1.44e-8,"H3":6.7e-9,"V1":1.35e-10,"V2":1.3e-10,"V3":1.05e-10},
{"f":0.4,"H1":5.5e-9,"H2":1.02e-8,"H3":4.5e-9,"V1":1.4e-10,"V2":1.27e-10,"V3":1.01e-10},
{"f":0.4167,"H1":3.7e-9,"H2":6.45e-9,"H3":2.85e-9,"V1":1.22e-10,"V2":1.22e-10,"V3":1.22e-10},
{"f":0.4333,"H1":2.4e-9,"H2":4.2e-9,"H3":1.74e-9,"V1":1.22e-10,"V2":1.2e-10,"V3":1.05e-10},
{"f":0.45,"H1":3.1e-9,"H2":5.4e-9,"H3":2.5e-9,"V1":1.22e-10,"V2":1.15e-10,"V3":1.01e-10},
{"f":0.4667,"H1":3.3e-9,"H2":5.9e-9,"H3":2.6e-9,"V1":1.16e-10,"V2":1.16e-10,"V3":1.1e-10},
{"f":0.4833,"H1":3.3e-9,"H2":5.85e-9,"H3":2.5e-9,"V1":1.19e-10,"V2":1.12e-10,"V3":1.22e-10},
{"f":0.5,"H1":2.6e-9,"H2":4.8e-9,"H3":2.05e-9,"V1":1.16e-10,"V2":1.05e-10,"V3":1.01e-10},
{"f":0.5167,"H1":2.4e-9,"H2":4.5e-9,"H3":2.0e-9,"V1":1.19e-10,"V2":1.1e-10,"V3":1.05e-10},
{"f":0.5333,"H1":2.67e-9,"H2":4.96e-9,"H3":2.2e-9,"V1":1.16e-10,"V2":1.12e-10,"V3":1.16e-10},
{"f":0.55,"H1":2.2e-9,"H2":4.1e-9,"H3":1.92e-9,"V1":9.6e-11,"V2":8.8e-11,"V3":9.6e-11},
{"f":0.5667,"H1":2.3e-9,"H2":4.3e-9,"H3":1.92e-9,"V1":7.6e-11,"V2":6.5e-11,"V3":8.1e-11},
{"f":0.5833,"H1":1.63e-9,"H2":3.35e-9,"H3":1.43e-9,"V1":7.8e-11,"V2":6.6e-11,"V3":8.2e-11},
{"f":0.6,"H1":1.43e-9,"H2":2.94e-9,"H3":1.34e-9,"V1":7.6e-11,"V2":6.5e-11,"V3":8.1e-11},
{"f":0.6167,"H1":1.3e-9,"H2":2.67e-9,"H3":1.22e-9,"V1":7.6e-11,"V2":7.0e-11,"V3":8.1e-11},
{"f":0.6333,"H1":1.07e-9,"H2":2.27e-9,"H3":1.0e-9,"V1":8.4e-11,"V2":7.4e-11,"V3":8.6e-11},
{"f":0.65,"H1":9.1e-10,"H2":1.92e-9,"H3":8.8e-10,"V1":7.4e-11,"V2":6.6e-11,"V3":7.3e-11},
{"f":0.6667,"H1":8.0e-10,"H2":1.63e-9,"H3":7.4e-10,"V1":5.6e-11,"V2":4.9e-11,"V3":5.8e-11},
{"f":0.6833,"H1":6.6e-10,"H2":1.34e-9,"H3":6.3e-10,"V1":5.0e-11,"V2":4.6e-11,"V3":5.3e-11},
{"f":0.7,"H1":5.9e-10,"H2":1.18e-9,"H3":5.7e-10,"V1":6.6e-11,"V2":6.2e-11,"V3":6.6e-11},
{"f":0.7167,"H1":4.6e-10,"H2":8.5e-10,"H3":4.4e-10,"V1":6.0e-11,"V2":5.6e-11,"V3":6.0e-11},
{"f":0.7333,"H1":3.75e-10,"H2":7.2e-10,"H3":3.4e-10,"V1":5.8e-11,"V2":5.4e-11,"V3":6.1e-11},
{"f":0.75,"H1":3.3e-10,"H2":5.9e-10,"H3":2.9e-10,"V1":5.6e-11,"V2":4.6e-11,"V3":6.2e-11},
{"f":0.7667,"H1":2.7e-10,"H2":4.9e-10,"H3":2.4e-10,"V1":6.6e-11,"V2":5.8e-11,"V3":6.3e-11},
{"f":0.7833,"H1":2.3e-10,"H2":4.3e-10,"H3":2.1e-10,"V1":6.4e-11,"V2":5.6e-11,"V3":5.8e-11},
{"f":0.8,"H1":2.0e-10,"H2":3.9e-10,"H3":1.8e-10,"V1":5.0e-11,"V2":4.8e-11,"V3":4.9e-11},
{"f":0.8167,"H1":1.64e-10,"H2":3.4e-10,"H3":1.5e-10,"V1":5.6e-11,"V2":5.4e-11,"V3":5.8e-11},
{"f":0.8333,"H1":1.4e-10,"H2":2.7e-10,"H3":1.27e-10,"V1":4.9e-11,"V2":5.4e-11,"V3":6.6e-11},
{"f":0.85,"H1":1.3e-10,"H2":2.2e-10,"H3":1.22e-10,"V1":3.8e-11,"V2":4.6e-11,"V3":6.6e-11},
{"f":0.8667,"H1":1.35e-10,"H2":1.94e-10,"H3":1.1e-10,"V1":4.6e-11,"V2":3.7e-11,"V3":6.8e-11},
{"f":0.8833,"H1":1.22e-10,"H2":1.64e-10,"H3":9.8e-11,"V1":5.4e-11,"V2":4.9e-11,"V3":7.0e-11},
{"f":0.9,"H1":1.08e-10,"H2":1.54e-10,"H3":8.6e-11,"V1":5.6e-11,"V2":5.2e-11,"V3":7.3e-11},
{"f":0.9167,"H1":8.9e-11,"H2":1.22e-10,"H3":8.1e-11,"V1":4.6e-11,"V2":5.0e-11,"V3":6.2e-11},
{"f":0.9333,"H1":8.1e-11,"H2":9.8e-11,"H3":7.6e-11,"V1":4.4e-11,"V2":4.4e-11,"V3":4.9e-11},
{"f":0.95,"H1":7.6e-11,"H2":7.8e-11,"H3":6.9e-11,"V1":4.0e-11,"V2":4.2e-11,"V3":4.3e-11},
{"f":0.9667,"H1":6.9e-11,"H2":7.1e-11,"H3":6.6e-11,"V1":3.8e-11,"V2":3.7e-11,"V3":4.0e-11},
{"f":0.9833,"H1":8.1e-11,"H2":8.6e-11,"H3":7.3e-11,"V1":3.5e-11,"V2":3.9e-11,"V3":3.9e-11},
{"f":1.0,"H1":7.3e-11,"H2":9.2e-11,"H3":6.6e-11,"V1":3.3e-11,"V2":3.6e-11,"V3":3.7e-11},
{"f":1.03,"H1":7.8e-11,"H2":8.6e-11,"H3":6.6e-11,"V1":3.4e-11,"V2":3.6e-11,"V3":3.8e-11},
{"f":1.06,"H1":8.6e-11,"H2":9.8e-11,"H3":7.8e-11,"V1":3.9e-11,"V2":3.3e-11,"V3":4.0e-11},
{"f":1.1,"H1":7.6e-11,"H2":8.3e-11,"H3":5.6e-11,"V1":3.1e-11,"V2":3.0e-11,"V3":4.6e-11},
{"f":1.14,"H1":8.4e-11,"H2":1.0e-10,"H3":6.8e-11,"V1":3.6e-11,"V2":3.3e-11,"V3":3.9e-11},
{"f":1.18,"H1":7.0e-11,"H2":8.0e-11,"H3":6.0e-11,"V1":3.0e-11,"V2":3.4e-11,"V3":3.2e-11},
{"f":1.22,"H1":9.0e-11,"H2":1.05e-10,"H3":7.2e-11,"V1":3.8e-11,"V2":3.5e-11,"V3":3.6e-11},
{"f":1.27,"H1":7.4e-11,"H2":9.0e-11,"H3":6.4e-11,"V1":3.3e-11,"V2":2.8e-11,"V3":3.4e-11},
{"f":1.32,"H1":8.0e-11,"H2":1.0e-10,"H3":6.0e-11,"V1":3.7e-11,"V2":3.1e-11,"V3":3.0e-11},
{"f":1.37,"H1":6.6e-11,"H2":8.2e-11,"H3":5.8e-11,"V1":4.2e-11,"V2":4.0e-11,"V3":3.6e-11},
{"f":1.42,"H1":6.2e-11,"H2":7.2e-11,"H3":5.4e-11,"V1":3.5e-11,"V2":4.6e-11,"V3":4.0e-11},
{"f":1.48,"H1":7.0e-11,"H2":8.4e-11,"H3":6.2e-11,"V1":4.4e-11,"V2":4.2e-11,"V3":4.8e-11},
{"f":1.54,"H1":5.6e-11,"H2":7.0e-11,"H3":5.0e-11,"V1":3.8e-11,"V2":5.0e-11,"V3":4.2e-11},
{"f":1.6,"H1":6.0e-11,"H2":5.6e-11,"H3":5.4e-11,"V1":4.6e-11,"V2":4.2e-11,"V3":5.0e-11},
{"f":1.66,"H1":5.2e-11,"H2":6.4e-11,"H3":4.6e-11,"V1":4.0e-11,"V2":4.8e-11,"V3":4.4e-11},
{"f":1.72,"H1":5.8e-11,"H2":5.2e-11,"H3":5.2e-11,"V1":4.8e-11,"V2":4.4e-11,"V3":5.2e-11},
{"f":1.77,"H1":4.8e-11,"H2":6.0e-11,"H3":4.4e-11,"V1":3.6e-11,"V2":4.0e-11,"V3":4.2e-11},
{"f":1.83,"H1":5.4e-11,"H2":5.0e-11,"H3":5.6e-11,"V1":4.4e-11,"V2":5.2e-11,"V3":4.6e-11},
{"f":1.9,"H1":5.0e-11,"H2":5.4e-11,"H3":4.8e-11,"V1":3.8e-11,"V2":4.4e-11,"V3":5.4e-11},
{"f":1.97,"H1":5.6e-11,"H2":6.2e-11,"H3":5.2e-11,"V1":4.6e-11,"V2":4.0e-11,"V3":4.2e-11},
{"f":2.04,"H1":4.8e-11,"H2":5.6e-11,"H3":4.6e-11,"V1":4.0e-11,"V2":4.8e-11,"V3":5.0e-11},
{"f":2.12,"H1":5.8e-11,"H2":6.8e-11,"H3":5.4e-11,"V1":3.4e-11,"V2":4.2e-11,"V3":4.4e-11},
{"f":2.2,"H1":5.0e-11,"H2":5.8e-11,"H3":5.0e-11,"V1":4.8e-11,"V2":4.6e-11,"V3":5.2e-11},
{"f":2.28,"H1":6.2e-11,"H2":8.2e-11,"H3":5.6e-11,"V1":4.0e-11,"V2":5.2e-11,"V3":4.6e-11},
{"f":2.36,"H1":5.4e-11,"H2":1.0e-10,"H3":5.0e-11,"V1":4.4e-11,"V2":4.0e-11,"V3":5.4e-11},
{"f":2.45,"H1":5.8e-11,"H2":6.4e-11,"H3":5.4e-11,"V1":3.6e-11,"V2":4.6e-11,"V3":4.4e-11},
{"f":2.54,"H1":5.0e-11,"H2":6.0e-11,"H3":4.8e-11,"V1":4.6e-11,"V2":5.0e-11,"V3":5.0e-11},
{"f":2.64,"H1":5.6e-11,"H2":6.6e-11,"H3":5.4e-11,"V1":4.2e-11,"V2":4.4e-11,"V3":4.8e-11},
{"f":2.74,"H1":5.2e-11,"H2":5.6e-11,"H3":5.0e-11,"V1":5.0e-11,"V2":5.6e-11,"V3":5.6e-11},
{"f":2.84,"H1":6.0e-11,"H2":7.0e-11,"H3":5.6e-11,"V1":4.4e-11,"V2":4.8e-11,"V3":4.4e-11},
{"f":2.95,"H1":5.2e-11,"H2":6.4e-11,"H3":5.0e-11,"V1":5.2e-11,"V2":4.4e-11,"V3":5.0e-11},
{"f":3.06,"H1":5.6e-11,"H2":6.8e-11,"H3":5.6e-11,"V1":4.0e-11,"V2":5.4e-11,"V3":5.8e-11},
{"f":3.18,"H1":5.0e-11,"H2":7.6e-11,"H3":4.8e-11,"V1":4.8e-11,"V2":4.6e-11,"V3":4.6e-11},
{"f":3.3,"H1":6.0e-11,"H2":6.2e-11,"H3":5.4e-11,"V1":4.2e-11,"V2":5.0e-11,"V3":5.2e-11},
{"f":3.42,"H1":5.4e-11,"H2":7.0e-11,"H3":5.0e-11,"V1":4.6e-11,"V2":4.4e-11,"V3":4.8e-11},
{"f":3.55,"H1":5.0e-11,"H2":6.0e-11,"H3":5.2e-11,"V1":5.0e-11,"V2":5.4e-11,"V3":5.4e-11},
{"f":3.68,"H1":5.8e-11,"H2":6.6e-11,"H3":5.6e-11,"V1":4.4e-11,"V2":4.8e-11,"V3":4.6e-11},
{"f":3.82,"H1":5.2e-11,"H2":6.2e-11,"H3":5.0e-11,"V1":4.8e-11,"V2":6.0e-11,"V3":5.2e-11},
{"f":3.96,"H1":5.6e-11,"H2":6.8e-11,"H3":5.4e-11,"V1":5.4e-11,"V2":1.14e-10,"V3":6.2e-11},
{"f":4.1,"H1":5.0e-11,"H2":6.0e-11,"H3":4.8e-11,"V1":4.6e-11,"V2":6.6e-11,"V3":5.6e-11},
{"f":4.25,"H1":5.4e-11,"H2":6.4e-11,"H3":5.2e-11,"V1":4.2e-11,"V2":5.0e-11,"V3":5.0e-11},
{"f":4.4,"H1":5.2e-11,"H2":5.8e-11,"H3":5.0e-11,"V1":4.8e-11,"V2":4.6e-11,"V3":5.4e-11},
{"f":4.56,"H1":5.8e-11,"H2":6.6e-11,"H3":5.4e-11,"V1":4.0e-11,"V2":5.2e-11,"V3":4.6e-11},
{"f":4.73,"H1":5.0e-11,"H2":6.0e-11,"H3":5.0e-11,"V1":4.6e-11,"V2":4.4e-11,"V3":5.2e-11},
{"f":4.9,"H1":5.6e-11,"H2":6.8e-11,"H3":5.8e-11,"V1":5.2e-11,"V2":5.6e-11,"V3":4.8e-11},
{"f":5.08,"H1":5.4e-11,"H2":6.2e-11,"H3":6.2e-11,"V1":4.4e-11,"V2":5.0e-11,"V3":5.6e-11},
{"f":5.27,"H1":6.2e-11,"H2":6.6e-11,"H3":7.6e-11,"V1":4.8e-11,"V2":5.4e-11,"V3":5.0e-11},
{"f":5.46,"H1":7.0e-11,"H2":8.0e-11,"H3":9.0e-11,"V1":4.2e-11,"V2":5.0e-11,"V3":5.6e-11},
{"f":5.66,"H1":8.6e-11,"H2":9.6e-11,"H3":1.07e-10,"V1":5.0e-11,"V2":5.8e-11,"V3":4.8e-11},
{"f":5.87,"H1":8.0e-11,"H2":1.07e-10,"H3":1.1e-10,"V1":5.4e-11,"V2":6.2e-11,"V3":5.4e-11},
{"f":6.08,"H1":1.1e-10,"H2":1.8e-10,"H3":1.3e-10,"V1":4.6e-11,"V2":5.6e-11,"V3":6.0e-11},
{"f":6.3,"H1":1.0e-10,"H2":1.2e-10,"H3":1.6e-10,"V1":5.2e-11,"V2":6.6e-11,"V3":5.0e-11},
{"f":6.53,"H1":1.3e-10,"H2":1.4e-10,"H3":1.2e-10,"V1":4.4e-11,"V2":7.0e-11,"V3":5.6e-11},
{"f":6.77,"H1":1.5e-10,"H2":1.6e-10,"H3":2.0e-10,"V1":5.8e-11,"V2":6.2e-11,"V3":6.4e-11},
{"f":7.02,"H1":1.6e-10,"H2":1.5e-10,"H3":1.6e-10,"V1":5.0e-11,"V2":8.0e-11,"V3":5.4e-11},
{"f":7.28,"H1":2.0e-10,"H2":1.8e-10,"H3":2.4e-10,"V1":6.2e-11,"V2":7.4e-11,"V3":6.6e-11},
{"f":7.55,"H1":2.4e-10,"H2":1.7e-10,"H3":2.5e-10,"V1":5.4e-11,"V2":9.0e-11,"V3":5.8e-11},
{"f":7.83,"H1":1.9e-10,"H2":2.0e-10,"H3":1.7e-10,"V1":6.6e-11,"V2":8.4e-11,"V3":7.0e-11},
{"f":8.12,"H1":2.1e-10,"H2":1.6e-10,"H3":1.9e-10,"V1":5.6e-11,"V2":1.0e-10,"V3":6.0e-11},
{"f":8.42,"H1":1.5e-10,"H2":2.2e-10,"H3":1.4e-10,"V1":7.0e-11,"V2":8.0e-11,"V3":6.6e-11},
{"f":8.73,"H1":1.7e-10,"H2":2.6e-10,"H3":1.6e-10,"V1":6.0e-11,"V2":9.4e-11,"V3":7.4e-11},
{"f":9.05,"H1":1.2e-10,"H2":1.6e-10,"H3":1.3e-10,"V1":7.4e-11,"V2":1.1e-10,"V3":6.4e-11},
{"f":9.38,"H1":1.0e-10,"H2":1.2e-10,"H3":9.0e-11,"V1":6.4e-11,"V2":8.8e-11,"V3":7.0e-11},
{"f":9.72,"H1":9.0e-11,"H2":1.0e-10,"H3":7.0e-11,"V1":8.0e-11,"V2":1.05e-10,"V3":7.6e-11},
{"f":10.1,"H1":8.0e-11,"H2":8.6e-11,"H3":6.0e-11,"V1":6.8e-11,"V2":9.0e-11,"V3":6.6e-11},
{"f":10.5,"H1":7.0e-11,"H2":7.4e-11,"H3":5.0e-11,"V1":7.6e-11,"V2":1.0e-10,"V3":7.2e-11},
{"f":10.9,"H1":6.2e-11,"H2":6.6e-11,"H3":4.6e-11,"V1":6.4e-11,"V2":8.0e-11,"V3":6.0e-11},
{"f":11.3,"H1":5.4e-11,"H2":5.8e-11,"H3":4.0e-11,"V1":7.2e-11,"V2":8.6e-11,"V3":6.8e-11},
{"f":11.7,"H1":4.6e-11,"H2":5.2e-11,"H3":4.4e-11,"V1":6.0e-11,"V2":7.2e-11,"V3":7.4e-11},
{"f":12.2,"H1":5.6e-11,"H2":6.0e-11,"H3":3.6e-11,"V1":7.8e-11,"V2":9.0e-11,"V3":6.6e-11},
{"f":12.7,"H1":5.0e-11,"H2":5.6e-11,"H3":4.2e-11,"V1":6.6e-11,"V2":7.6e-11,"V3":7.6e-11},
{"f":13.2,"H1":4.4e-11,"H2":5.0e-11,"H3":3.4e-11,"V1":8.4e-11,"V2":9.6e-11,"V3":7.0e-11},
{"f":13.7,"H1":5.2e-11,"H2":5.8e-11,"H3":4.0e-11,"V1":7.0e-11,"V2":8.2e-11,"V3":8.0e-11},
{"f":14.2,"H1":4.8e-11,"H2":5.4e-11,"H3":3.6e-11,"V1":9.0e-11,"V2":1.0e-10,"V3":7.4e-11},
{"f":14.8,"H1":5.4e-11,"H2":6.0e-11,"H3":4.2e-11,"V1":7.6e-11,"V2":8.6e-11,"V3":8.6e-11},
{"f":15.4,"H1":5.0e-11,"H2":5.6e-11,"H3":3.4e-11,"V1":1.1e-10,"V2":1.05e-10,"V3":8.0e-11},
{"f":16.0,"H1":5.6e-11,"H2":6.2e-11,"H3":4.4e-11,"V1":8.4e-11,"V2":9.4e-11,"V3":9.6e-11},
{"f":16.6,"H1":5.0e-11,"H2":5.4e-11,"H3":3.6e-11,"V1":1.2e-10,"V2":1.1e-10,"V3":8.6e-11},
{"f":17.3,"H1":5.6e-11,"H2":6.0e-11,"H3":4.6e-11,"V1":9.0e-11,"V2":1.0e-10,"V3":1.1e-10},
{"f":18.0,"H1":5.2e-11,"H2":5.6e-11,"H3":3.8e-11,"V1":1.3e-10,"V2":1.2e-10,"V3":9.4e-11},
{"f":18.7,"H1":5.8e-11,"H2":6.2e-11,"H3":4.4e-11,"V1":1.6e-10,"V2":1.3e-10,"V3":1.4e-10},
{"f":19.4,"H1":5.4e-11,"H2":5.8e-11,"H3":3.6e-11,"V1":1.1e-10,"V2":1.2e-10,"V3":1.0e-10},
{"f":20.2,"H1":5.6e-11,"H2":6.0e-11,"H3":4.2e-11,"V1":9.0e-11,"V2":9.6e-11,"V3":8.6e-11},
{"f":21.0,"H1":5.0e-11,"H2":5.6e-11,"H3":3.8e-11,"V1":7.0e-11,"V2":7.6e-11,"V3":6.6e-11},
{"f":21.9,"H1":5.4e-11,"H2":5.8e-11,"H3":4.6e-11,"V1":5.0e-11,"V2":5.4e-11,"V3":5.0e-11},
{"f":22.8,"H1":5.8e-11,"H2":5.4e-11,"H3":4.0e-11,"V1":3.6e-11,"V2":3.2e-11,"V3":4.4e-11},
{"f":23.8,"H1":6.4e-11,"H2":6.0e-11,"H3":3.4e-11,"V1":4.6e-11,"V2":4.0e-11,"V3":3.6e-11},
{"f":24.8,"H1":5.2e-11,"H2":5.0e-11,"H3":4.6e-11,"V1":3.0e-11,"V2":3.6e-11,"V3":5.0e-11},
{"f":25.9,"H1":6.6e-11,"H2":5.8e-11,"H3":3.8e-11,"V1":4.2e-11,"V2":4.8e-11,"V3":3.8e-11},
{"f":27.0,"H1":5.6e-11,"H2":6.2e-11,"H3":5.0e-11,"V1":3.4e-11,"V2":3.0e-11,"V3":4.6e-11},
{"f":28.2,"H1":6.2e-11,"H2":5.2e-11,"H3":4.2e-11,"V1":4.8e-11,"V2":4.4e-11,"V3":3.4e-11},
{"f":29.4,"H1":5.0e-11,"H2":5.6e-11,"H3":3.6e-11,"V1":3.2e-11,"V2":3.8e-11,"V3":5.2e-11},
{"f":30.7,"H1":6.8e-11,"H2":6.4e-11,"H3":4.8e-11,"V1":4.0e-11,"V2":3.4e-11,"V3":4.0e-11},
{"f":32.0,"H1":5.4e-11,"H2":5.0e-11,"H3":4.4e-11,"V1":3.6e-11,"V2":4.6e-11,"V3":3.6e-11},
{"f":32.7,"H1":6.0e-11,"H2":5.8e-11,"H3":3.8e-11,"V1":4.4e-11,"V2":3.2e-11,"V3":4.8e-11},
{"f":33.4,"H1":5.6e-11,"H2":6.0e-11,"H3":5.2e-11,"V1":3.0e-11,"V2":4.2e-11,"V3":3.8e-11},
{"f":34.9,"H1":6.4e-11,"H2":5.4e-11,"H3":4.0e-11,"V1":4.6e-11,"V2":3.6e-11,"V3":4.4e-11},
{"f":36.4,"H1":5.2e-11,"H2":6.2e-11,"H3":4.6e-11,"V1":3.4e-11,"V2":4.8e-11,"V3":3.2e-11},
{"f":38.0,"H1":6.6e-11,"H2":5.0e-11,"H3":3.6e-11,"V1":3.8e-11,"V2":3.0e-11,"V3":5.0e-11},
{"f":39.7,"H1":5.8e-11,"H2":5.6e-11,"H3":4.8e-11,"V1":4.2e-11,"V2":4.0e-11,"V3":4.2e-11},
{"f":41.5,"H1":6.2e-11,"H2":6.0e-11,"H3":4.2e-11,"V1":3.0e-11,"V2":3.8e-11,"V3":3.6e-11},
{"f":43.4,"H1":5.4e-11,"H2":5.2e-11,"H3":5.0e-11,"V1":4.6e-11,"V2":3.4e-11,"V3":4.8e-11},
{"f":45.4,"H1":6.8e-11,"H2":5.8e-11,"H3":3.8e-11,"V1":3.6e-11,"V2":4.6e-11,"V3":3.8e-11},
{"f":47.5,"H1":5.6e-11,"H2":6.4e-11,"H3":4.4e-11,"V1":4.0e-11,"V2":3.2e-11,"V3":4.4e-11},
{"f":49.7,"H1":6.0e-11,"H2":5.4e-11,"H3":4.6e-11,"V1":3.2e-11,"V2":4.4e-11,"V3":3.4e-11},
{"f":52.0,"H1":5.2e-11,"H2":5.6e-11,"H3":3.6e-11,"V1":4.4e-11,"V2":3.6e-11,"V3":5.0e-11},
{"f":54.4,"H1":6.4e-11,"H2":6.2e-11,"H3":5.0e-11,"V1":3.4e-11,"V2":3.0e-11,"V3":4.0e-11},
{"f":56.9,"H1":5.8e-11,"H2":5.0e-11,"H3":4.2e-11,"V1":4.8e-11,"V2":4.2e-11,"V3":3.6e-11},
{"f":59.5,"H1":6.2e-11,"H2":5.8e-11,"H3":4.8e-11,"V1":3.6e-11,"V2":3.8e-11,"V3":4.6e-11},
{"f":60.0,"H1":5.6e-11,"H2":6.0e-11,"H3":4.0e-11,"V1":3.2e-11,"V2":3.4e-11,"V3":2.1e-10},
{"f":60.5,"H1":6.0e-11,"H2":5.4e-11,"H3":4.4e-11,"V1":4.2e-11,"V2":4.8e-11,"V3":4.2e-11},
{"f":63.0,"H1":5.4e-11,"H2":6.2e-11,"H3":5.2e-11,"V1":3.0e-11,"V2":3.2e-11,"V3":3.6e-11},
{"f":65.8,"H1":6.6e-11,"H2":5.2e-11,"H3":3.8e-11,"V1":4.4e-11,"V2":4.0e-11,"V3":4.8e-11},
{"f":68.7,"H1":5.8e-11,"H2":5.6e-11,"H3":4.6e-11,"V1":3.6e-11,"V2":3.6e-11,"V3":3.8e-11},
{"f":71.8,"H1":6.2e-11,"H2":6.0e-11,"H3":4.2e-11,"V1":4.0e-11,"V2":4.4e-11,"V3":4.4e-11},
{"f":75.0,"H1":5.2e-11,"H2":5.8e-11,"H3":5.0e-11,"V1":3.2e-11,"V2":3.0e-11,"V3":3.4e-11},
{"f":78.4,"H1":6.4e-11,"H2":5.0e-11,"H3":3.6e-11,"V1":4.6e-11,"V2":4.2e-11,"V3":5.0e-11},
{"f":81.9,"H1":5.6e-11,"H2":6.2e-11,"H3":4.8e-11,"V1":3.4e-11,"V2":3.8e-11,"V3":4.0e-11},
{"f":85.6,"H1":6.0e-11,"H2":5.4e-11,"H3":4.4e-11,"V1":3.8e-11,"V2":3.4e-11,"V3":3.6e-11},
{"f":89.4,"H1":5.8e-11,"H2":5.6e-11,"H3":4.0e-11,"V1":4.2e-11,"V2":4.6e-11,"V3":4.6e-11},
{"f":93.4,"H1":6.8e-11,"H2":6.0e-11,"H3":5.2e-11,"V1":3.0e-11,"V2":3.2e-11,"V3":3.8e-11},
{"f":97.6,"H1":5.4e-11,"H2":5.2e-11,"H3":4.2e-11,"V1":4.4e-11,"V2":4.0e-11,"V3":4.4e-11},
{"f":100,"H1":6.2e-11,"H2":5.8e-11,"H3":4.6e-11,"V1":3.6e-11,"V2":3.6e-11,"V3":3.2e-11},
{"f":102,"H1":5.6e-11,"H2":6.4e-11,"H3":3.8e-11,"V1":4.0e-11,"V2":4.4e-11,"V3":5.0e-11},
{"f":106.6,"H1":6.4e-11,"H2":5.4e-11,"H3":5.0e-11,"V1":3.2e-11,"V2":3.0e-11,"V3":4.2e-11},
{"f":111.4,"H1":5.8e-11,"H2":5.6e-11,"H3":4.4e-11,"V1":4.6e-11,"V2":4.2e-11,"V3":3.6e-11},
{"f":115,"H1":6.0e-11,"H2":6.0e-11,"H3":4.8e-11,"V1":3.4e-11,"V2":3.8e-11,"V3":4.8e-11},
{"f":116.4,"H1":5.4e-11,"H2":5.0e-11,"H3":4.0e-11,"V1":3.8e-11,"V2":3.4e-11,"V3":3.8e-11},
{"f":121.6,"H1":6.6e-11,"H2":5.8e-11,"H3":5.4e-11,"V1":1.9e-11,"V2":4.8e-11,"V3":4.4e-11},
{"f":127,"H1":5.8e-11,"H2":6.2e-11,"H3":4.2e-11,"V1":4.2e-11,"V2":3.2e-11,"V3":3.4e-11},
{"f":132.7,"H1":6.2e-11,"H2":5.4e-11,"H3":4.6e-11,"V1":3.0e-11,"V2":4.0e-11,"V3":5.0e-11},
{"f":138.7,"H1":5.6e-11,"H2":5.6e-11,"H3":3.8e-11,"V1":4.4e-11,"V2":3.6e-11,"V3":4.0e-11},
{"f":144.9,"H1":6.8e-11,"H2":6.0e-11,"H3":5.0e-11,"V1":3.6e-11,"V2":4.4e-11,"V3":3.6e-11},
{"f":151.4,"H1":6.0e-11,"H2":5.8e-11,"H3":4.4e-11,"V1":4.0e-11,"V2":3.0e-11,"V3":4.6e-11},
{"f":158.2,"H1":6.4e-11,"H2":5.2e-11,"H3":4.8e-11,"V1":3.2e-11,"V2":4.2e-11,"V3":3.8e-11},
{"f":165.3,"H1":5.8e-11,"H2":6.2e-11,"H3":4.2e-11,"V1":4.6e-11,"V2":3.8e-11,"V3":4.4e-11},
{"f":172,"H1":6.6e-11,"H2":5.6e-11,"H3":5.2e-11,"V1":3.4e-11,"V2":3.4e-11,"V3":3.2e-11},
{"f":172.7,"H1":6.0e-11,"H2":6.0e-11,"H3":4.6e-11,"V1":3.8e-11,"V2":4.6e-11,"V3":5.0e-11},
{"f":180.5,"H1":7.0e-11,"H2":5.4e-11,"H3":4.0e-11,"V1":4.2e-11,"V2":1.25e-10,"V3":4.2e-11},
{"f":186,"H1":6.2e-11,"H2":6.4e-11,"H3":5.4e-11,"V1":3.0e-11,"V2":4.0e-11,"V3":3.6e-11},
{"f":188.6,"H1":6.6e-11,"H2":5.8e-11,"H3":4.4e-11,"V1":4.4e-11,"V2":3.6e-11,"V3":4.8e-11},
{"f":197.1,"H1":6.4e-11,"H2":6.0e-11,"H3":5.0e-11,"V1":3.6e-11,"V2":4.4e-11,"V3":3.8e-11},
{"f":200,"H1":6.8e-11,"H2":5.6e-11,"H3":4.6e-11,"V1":4.0e-11,"V2":3.8e-11,"V3":4.4e-11},
{"f":23.3,"H1":6.8e-11,"H2":5.0e-11,"H3":5.4e-11,"V1":4.8e-11,"V2":3.0e-11,"V3":3.2e-11},
{"f":24.3,"H1":5.0e-11,"H2":6.4e-11,"H3":3.6e-11,"V1":3.0e-11,"V2":5.2e-11,"V3":5.4e-11},
{"f":25.3,"H1":6.4e-11,"H2":5.4e-11,"H3":5.0e-11,"V1":5.2e-11,"V2":3.4e-11,"V3":3.0e-11},
{"f":26.4,"H1":5.2e-11,"H2":6.2e-11,"H3":3.8e-11,"V1":2.8e-11,"V2":5.0e-11,"V3":5.2e-11},
{"f":27.6,"H1":6.6e-11,"H2":5.0e-11,"H3":5.2e-11,"V1":5.0e-11,"V2":3.0e-11,"V3":3.4e-11},
{"f":28.8,"H1":5.4e-11,"H2":6.6e-11,"H3":3.6e-11,"V1":3.2e-11,"V2":5.4e-11,"V3":5.0e-11},
{"f":30.0,"H1":6.2e-11,"H2":5.2e-11,"H3":5.0e-11,"V1":5.4e-11,"V2":2.8e-11,"V3":3.2e-11},
{"f":31.3,"H1":5.0e-11,"H2":6.0e-11,"H3":3.8e-11,"V1":3.0e-11,"V2":5.0e-11,"V3":5.4e-11},
{"f":34.1,"H1":6.8e-11,"H2":5.0e-11,"H3":5.4e-11,"V1":5.0e-11,"V2":3.2e-11,"V3":3.0e-11},
{"f":35.6,"H1":5.4e-11,"H2":6.4e-11,"H3":3.6e-11,"V1":2.8e-11,"V2":5.2e-11,"V3":5.2e-11},
{"f":37.2,"H1":6.4e-11,"H2":5.2e-11,"H3":5.2e-11,"V1":5.2e-11,"V2":3.0e-11,"V3":3.4e-11},
{"f":38.8,"H1":5.0e-11,"H2":6.2e-11,"H3":3.8e-11,"V1":3.2e-11,"V2":5.4e-11,"V3":5.0e-11},
{"f":40.6,"H1":6.6e-11,"H2":5.0e-11,"H3":5.0e-11,"V1":5.0e-11,"V2":2.8e-11,"V3":3.0e-11},
{"f":42.4,"H1":5.2e-11,"H2":6.4e-11,"H3":3.6e-11,"V1":3.0e-11,"V2":5.0e-11,"V3":5.4e-11},
{"f":44.4,"H1":6.2e-11,"H2":5.4e-11,"H3":5.4e-11,"V1":5.4e-11,"V2":3.2e-11,"V3":3.2e-11},
{"f":46.4,"H1":5.4e-11,"H2":6.0e-11,"H3":3.8e-11,"V1":2.8e-11,"V2":5.2e-11,"V3":5.0e-11},
{"f":48.6,"H1":6.8e-11,"H2":5.2e-11,"H3":5.0e-11,"V1":5.2e-11,"V2":3.0e-11,"V3":3.4e-11},
{"f":50.8,"H1":5.0e-11,"H2":6.6e-11,"H3":3.6e-11,"V1":3.0e-11,"V2":5.4e-11,"V3":5.2e-11},
{"f":53.2,"H1":6.4e-11,"H2":5.0e-11,"H3":5.2e-11,"V1":5.0e-11,"V2":2.8e-11,"V3":3.0e-11},
{"f":55.6,"H1":5.2e-11,"H2":6.2e-11,"H3":3.8e-11,"V1":3.2e-11,"V2":5.0e-11,"V3":5.4e-11},
{"f":58.2,"H1":6.6e-11,"H2":5.4e-11,"H3":5.4e-11,"V1":5.4e-11,"V2":3.2e-11,"V3":3.2e-11},
{"f":61.7,"H1":5.4e-11,"H2":6.4e-11,"H3":3.6e-11,"V1":2.8e-11,"V2":5.2e-11,"V3":5.0e-11},
{"f":64.4,"H1":6.2e-11,"H2":5.0e-11,"H3":5.0e-11,"V1":5.2e-11,"V2":3.0e-11,"V3":3.4e-11},
{"f":67.2,"H1":5.0e-11,"H2":6.0e-11,"H3":3.8e-11,"V1":3.0e-11,"V2":5.4e-11,"V3":5.2e-11},
{"f":70.2,"H1":6.8e-11,"H2":5.2e-11,"H3":5.4e-11,"V1":5.0e-11,"V2":2.8e-11,"V3":3.0e-11},
{"f":73.4,"H1":5.2e-11,"H2":6.6e-11,"H3":3.6e-11,"V1":3.2e-11,"V2":5.0e-11,"V3":5.4e-11},
{"f":76.7,"H1":6.4e-11,"H2":5.0e-11,"H3":5.2e-11,"V1":5.4e-11,"V2":3.2e-11,"V3":3.2e-11},
{"f":80.1,"H1":5.4e-11,"H2":6.2e-11,"H3":3.8e-11,"V1":2.8e-11,"V2":5.2e-11,"V3":5.0e-11},
{"f":83.7,"H1":6.6e-11,"H2":5.4e-11,"H3":5.0e-11,"V1":5.2e-11,"V2":3.0e-11,"V3":3.4e-11},
{"f":87.5,"H1":5.0e-11,"H2":6.4e-11,"H3":3.6e-11,"V1":3.0e-11,"V2":5.4e-11,"V3":5.2e-11},
{"f":91.4,"H1":6.2e-11,"H2":5.0e-11,"H3":5.4e-11,"V1":5.0e-11,"V2":2.8e-11,"V3":3.0e-11},
{"f":95.5,"H1":5.4e-11,"H2":6.0e-11,"H3":3.8e-11,"V1":3.2e-11,"V2":5.0e-11,"V3":5.4e-11},
{"f":98.8,"H1":6.8e-11,"H2":5.2e-11,"H3":5.2e-11,"V1":5.4e-11,"V2":3.2e-11,"V3":3.2e-11},
{"f":104.3,"H1":5.2e-11,"H2":6.6e-11,"H3":3.6e-11,"V1":2.8e-11,"V2":5.2e-11,"V3":5.0e-11},
{"f":109,"H1":6.4e-11,"H2":5.0e-11,"H3":5.0e-11,"V1":5.2e-11,"V2":3.0e-11,"V3":3.4e-11},
{"f":113,"H1":5.0e-11,"H2":6.2e-11,"H3":3.8e-11,"V1":3.0e-11,"V2":5.4e-11,"V3":5.2e-11},
{"f":119,"H1":6.6e-11,"H2":5.4e-11,"H3":5.4e-11,"V1":5.0e-11,"V2":2.8e-11,"V3":3.0e-11},
{"f":124.3,"H1":5.4e-11,"H2":6.4e-11,"H3":3.6e-11,"V1":3.2e-11,"V2":5.0e-11,"V3":5.4e-11},
{"f":129.8,"H1":6.2e-11,"H2":5.0e-11,"H3":5.2e-11,"V1":5.4e-11,"V2":3.2e-11,"V3":3.2e-11},
{"f":135.7,"H1":5.2e-11,"H2":6.0e-11,"H3":3.8e-11,"V1":2.8e-11,"V2":5.2e-11,"V3":5.0e-11},
{"f":141.8,"H1":6.8e-11,"H2":5.2e-11,"H3":5.0e-11,"V1":5.2e-11,"V2":3.0e-11,"V3":3.4e-11},
{"f":148.1,"H1":5.4e-11,"H2":6.6e-11,"H3":3.6e-11,"V1":3.0e-11,"V2":5.4e-11,"V3":5.2e-11},
{"f":154.8,"H1":6.4e-11,"H2":5.0e-11,"H3":5.4e-11,"V1":5.0e-11,"V2":2.8e-11,"V3":3.0e-11},
{"f":161.7,"H1":5.0e-11,"H2":6.2e-11,"H3":3.8e-11,"V1":3.2e-11,"V2":5.0e-11,"V3":5.4e-11},
{"f":168.6,"H1":6.6e-11,"H2":5.4e-11,"H3":5.2e-11,"V1":5.4e-11,"V2":3.2e-11,"V3":3.2e-11},
{"f":176.5,"H1":5.6e-11,"H2":6.4e-11,"H3":3.6e-11,"V1":2.8e-11,"V2":5.2e-11,"V3":5.0e-11},
{"f":183.2,"H1":7.0e-11,"H2":5.0e-11,"H3":5.0e-11,"V1":5.2e-11,"V2":3.0e-11,"V3":3.4e-11},
{"f":192.8,"H1":5.8e-11,"H2":6.4e-11,"H3":3.8e-11,"V1":3.0e-11,"V2":5.4e-11,"V3":5.2e-11}
]
},
"hconcat":[
{"vconcat":[
{"width":1860,"height":560,"title":"ETMX_ST1",
"layer":[
{"data":{"name":"st1"},"transform":[{"fold":["H1","H2","H3","V1","V2","V3"],"as":["s","v"]}],
"mark":{"type":"line","strokeWidth":3.5,"clip":true},
"encoding":{
"x":{"field":"f","type":"quantitative","scale":{"type":"log","domain":[0.01,200],"nice":false},
"axis":{"title":"Freq (hz)","titlePadding":6,"grid":true,"values":[0.01,0.02,0.03,0.04,0.05,0.06,0.07,0.08,0.09,0.1,0.2,0.3,0.4,0.5,0.6,0.7,0.8,0.9,1,2,3,4,5,6,7,8,9,10,20,30,40,50,60,70,80,90,100,200],"labelExpr":"datum.value == 0.01 ? '10⁻²' : datum.value == 0.1 ? '10⁻¹' : datum.value == 1 ? '10⁰' : datum.value == 10 ? '10¹' : datum.value == 100 ? '10²' : ''"}},
"y":{"field":"v","type":"quantitative","scale":{"type":"log","domain":[1.68e-11,7.4e-8],"nice":false},
"axis":{"title":"m/rthz","titlePadding":10,"grid":true,"values":[2e-11,3e-11,4e-11,5e-11,6e-11,7e-11,8e-11,9e-11,1e-10,2e-10,3e-10,4e-10,5e-10,6e-10,7e-10,8e-10,9e-10,1e-9,2e-9,3e-9,4e-9,5e-9,6e-9,7e-9,8e-9,9e-9,1e-8,2e-8,3e-8,4e-8,5e-8,6e-8,7e-8],"labelExpr":"datum.value == 1e-10 ? '10⁻¹⁰' : datum.value == 1e-9 ? '10⁻⁹' : datum.value == 1e-8 ? '10⁻⁸' : ''"}},
"color":{"field":"s","type":"nominal","scale":{"domain":["H1","H2","H3","V1","V2","V3","ADE"],"range":["#1f77b4","#ff7f0e","#2ca02c","#d62728","#9467bd","#8c564b","#e377c2"]},
"legend":{"title":null,"labelExpr":"datum.label == 'ADE' ? 'ADE 1mm noise' : 'ETMX_ST1_CPSINF_' + datum.label"}}
}},
{"data":{"name":"ade1"},"mark":{"type":"line","strokeWidth":3.5,"clip":true},
"encoding":{"x":{"field":"f","type":"quantitative"},"y":{"field":"v","type":"quantitative"},"color":{"field":"s","type":"nominal"}}}
]},
{"width":1860,"height":564,"title":"ETMX_ST2",
"layer":[
{"data":{"name":"st2"},"transform":[{"fold":["H1","H2","H3","V1","V2","V3"],"as":["s","v"]}],
"mark":{"type":"line","strokeWidth":3.5,"clip":true},
"encoding":{
"x":{"field":"f","type":"quantitative","scale":{"type":"log","domain":[0.01,200],"nice":false},
"axis":{"title":"Freq (hz)","titlePadding":6,"grid":true,"values":[0.01,0.02,0.03,0.04,0.05,0.06,0.07,0.08,0.09,0.1,0.2,0.3,0.4,0.5,0.6,0.7,0.8,0.9,1,2,3,4,5,6,7,8,9,10,20,30,40,50,60,70,80,90,100,200],"labelExpr":"datum.value == 0.01 ? '10⁻²' : datum.value == 0.1 ? '10⁻¹' : datum.value == 1 ? '10⁰' : datum.value == 10 ? '10¹' : datum.value == 100 ? '10²' : ''"}},
"y":{"field":"v","type":"quantitative","scale":{"type":"log","domain":[4.4e-12,2.74e-7],"nice":false},
"axis":{"title":"m/rthz","titlePadding":10,"grid":true,"values":[5e-12,6e-12,7e-12,8e-12,9e-12,1e-11,2e-11,3e-11,4e-11,5e-11,6e-11,7e-11,8e-11,9e-11,1e-10,2e-10,3e-10,4e-10,5e-10,6e-10,7e-10,8e-10,9e-10,1e-9,2e-9,3e-9,4e-9,5e-9,6e-9,7e-9,8e-9,9e-9,1e-8,2e-8,3e-8,4e-8,5e-8,6e-8,7e-8,8e-8,9e-8,1e-7,2e-7],"labelExpr":"datum.value == 1e-11 ? '10⁻¹¹' : datum.value == 1e-10 ? '10⁻¹⁰' : datum.value == 1e-9 ? '10⁻⁹' : datum.value == 1e-8 ? '10⁻⁸' : datum.value == 1e-7 ? '10⁻⁷' : ''"}},
"color":{"field":"s","type":"nominal","scale":{"domain":["H1","H2","H3","V1","V2","V3","ADE"],"range":["#1f77b4","#ff7f0e","#2ca02c","#d62728","#9467bd","#8c564b","#e377c2"]},
"legend":{"title":null,"labelExpr":"datum.label == 'ADE' ? 'ADE .25mm noise' : 'ETMX_ST2_CPSINF_' + datum.label"}}
}},
{"data":{"name":"ade2"},"mark":{"type":"line","strokeWidth":3.5,"clip":true},
"encoding":{"x":{"field":"f","type":"quantitative"},"y":{"field":"v","type":"quantitative"},"color":{"field":"s","type":"nominal"}}}
]}
],
"spacing":22,
"resolve":{"scale":{"color":"independent"}}},
{"width":20,"height":1300,"view":{"stroke":null},
"data":{"name":"note"},
"mark":{"type":"text","angle":270,"fontSize":16.8,"font":"DejaVu Sans","align":"center","baseline":"middle","color":"black"},
"encoding":{
"x":{"datum":0.5,"type":"quantitative","scale":{"domain":[0,1]},"axis":null},
"y":{"datum":0.472,"type":"quantitative","scale":{"domain":[0,1]},"axis":null},
"text":{"field":"t"}}}
],
"spacing":118
}
